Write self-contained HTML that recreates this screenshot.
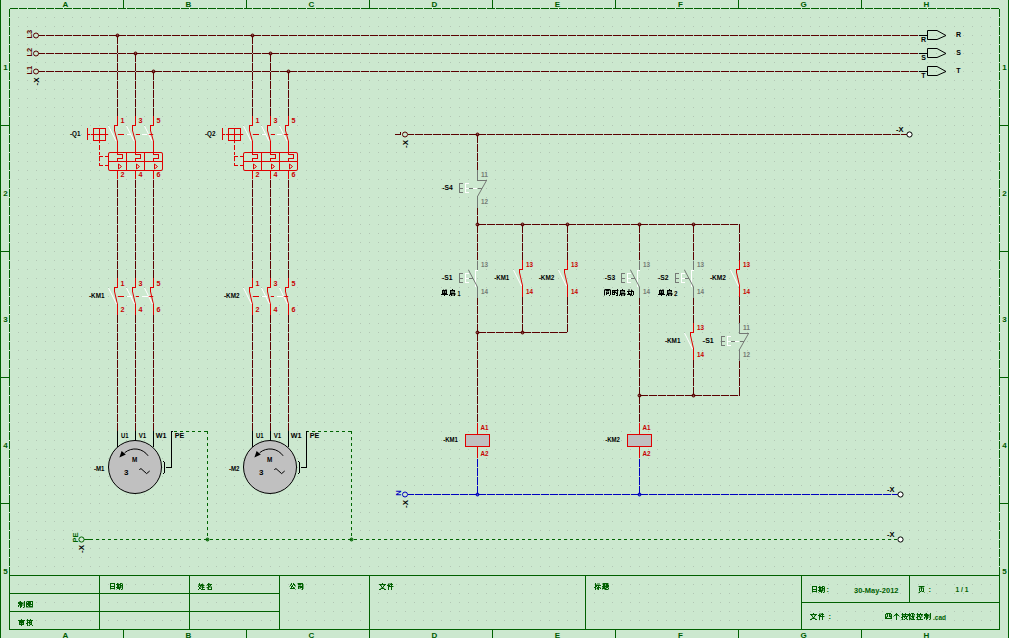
<!DOCTYPE html><html><head><meta charset="utf-8"><style>html,body{margin:0;padding:0;background:#cce8cf;overflow:hidden}svg{display:block}text{font-family:"Liberation Sans",sans-serif}</style></head><body>
<svg width="1009" height="638" viewBox="0 0 1009 638">
<defs><pattern id="g" x="0" y="8" width="9" height="9" patternUnits="userSpaceOnUse"><rect x="0" y="0" width="1" height="1" fill="#b2c6b4"/></pattern></defs>
<rect width="1009" height="638" fill="#cce8cf"/>
<rect x="10" y="9" width="989" height="620" fill="url(#g)" shape-rendering="crispEdges"/>
<path d="M0.5 0V638M1008.5 0V638M10 8.5H18M19 8.5H27M28 8.5H36M37 8.5H45M46 8.5H54M55 8.5H63M64 8.5H72M73 8.5H81M82 8.5H90M91 8.5H99M100 8.5H108M109 8.5H117M118 8.5H126M127 8.5H135M136 8.5H144M145 8.5H153M154 8.5H162M163 8.5H171M172 8.5H180M181 8.5H189M190 8.5H198M199 8.5H207M208 8.5H216M217 8.5H225M226 8.5H234M235 8.5H243M244 8.5H252M253 8.5H261M262 8.5H270M271 8.5H279M280 8.5H288M289 8.5H297M298 8.5H306M307 8.5H315M316 8.5H324M325 8.5H333M334 8.5H342M343 8.5H351M352 8.5H360M361 8.5H369M370 8.5H378M379 8.5H387M388 8.5H396M397 8.5H405M406 8.5H414M415 8.5H423M424 8.5H432M433 8.5H441M442 8.5H450M451 8.5H459M460 8.5H468M469 8.5H477M478 8.5H486M487 8.5H495M496 8.5H504M505 8.5H513M514 8.5H522M523 8.5H531M532 8.5H540M541 8.5H549M550 8.5H558M559 8.5H567M568 8.5H576M577 8.5H585M586 8.5H594M595 8.5H603M604 8.5H612M613 8.5H621M622 8.5H630M631 8.5H639M640 8.5H648M649 8.5H657M658 8.5H666M667 8.5H675M676 8.5H684M685 8.5H693M694 8.5H702M703 8.5H711M712 8.5H720M721 8.5H729M730 8.5H738M739 8.5H747M748 8.5H756M757 8.5H765M766 8.5H774M775 8.5H783M784 8.5H792M793 8.5H801M802 8.5H810M811 8.5H819M820 8.5H828M829 8.5H837M838 8.5H846M847 8.5H855M856 8.5H864M865 8.5H873M874 8.5H882M883 8.5H891M892 8.5H900M901 8.5H909M910 8.5H918M919 8.5H927M928 8.5H936M937 8.5H945M946 8.5H954M955 8.5H963M964 8.5H972M973 8.5H981M982 8.5H990M991 8.5H999M9.5 9V17M9.5 18V26M9.5 27V35M9.5 36V44M9.5 45V53M9.5 54V62M9.5 63V71M9.5 72V80M9.5 81V89M9.5 90V98M9.5 99V107M9.5 108V116M9.5 117V125M9.5 126V134M9.5 135V143M9.5 144V152M9.5 153V161M9.5 162V170M9.5 171V179M9.5 180V188M9.5 189V197M9.5 198V206M9.5 207V215M9.5 216V224M9.5 225V233M9.5 234V242M9.5 243V251M9.5 252V260M9.5 261V269M9.5 270V278M9.5 279V287M9.5 288V296M9.5 297V305M9.5 306V314M9.5 315V323M9.5 324V332M9.5 333V341M9.5 342V350M9.5 351V359M9.5 360V368M9.5 369V377M9.5 378V386M9.5 387V395M9.5 396V404M9.5 405V413M9.5 414V422M9.5 423V431M9.5 432V440M9.5 441V449M9.5 450V458M9.5 459V467M9.5 468V476M9.5 477V485M9.5 486V494M9.5 495V503M9.5 504V512M9.5 513V521M9.5 522V530M9.5 531V539M9.5 540V548M9.5 549V557M9.5 558V566M9.5 567V575M999.5 9V17M999.5 18V26M999.5 27V35M999.5 36V44M999.5 45V53M999.5 54V62M999.5 63V71M999.5 72V80M999.5 81V89M999.5 90V98M999.5 99V107M999.5 108V116M999.5 117V125M999.5 126V134M999.5 135V143M999.5 144V152M999.5 153V161M999.5 162V170M999.5 171V179M999.5 180V188M999.5 189V197M999.5 198V206M999.5 207V215M999.5 216V224M999.5 225V233M999.5 234V242M999.5 243V251M999.5 252V260M999.5 261V269M999.5 270V278M999.5 279V287M999.5 288V296M999.5 297V305M999.5 306V314M999.5 315V323M999.5 324V332M999.5 333V341M999.5 342V350M999.5 351V359M999.5 360V368M999.5 369V377M999.5 378V386M999.5 387V395M999.5 396V404M999.5 405V413M999.5 414V422M999.5 423V431M999.5 432V440M999.5 441V449M999.5 450V458M999.5 459V467M999.5 468V476M999.5 477V485M999.5 486V494M999.5 495V503M999.5 504V512M999.5 513V521M999.5 522V530M999.5 531V539M999.5 540V548M999.5 549V557M999.5 558V566M999.5 567V575M123.5 0V9M123.5 629V638M246.5 0V9M246.5 629V638M369.5 0V9M369.5 629V638M492.5 0V9M492.5 629V638M615.5 0V9M615.5 629V638M738.5 0V9M738.5 629V638M861.5 0V9M861.5 629V638M0 125.5H10M999 125.5H1009M0 251.5H10M999 251.5H1009M0 377.5H10M999 377.5H1009M0 503.5H10M999 503.5H1009M9 575.5H1000M9 629.5H1000M9.5 575V630M999.5 575V630M9 593.5H280M9 611.5H280M801 602.5H1000M99.5 575V630M189.5 575V630M279.5 575V630M369.5 575V630M585.5 575V630M801.5 575V630M909.5 575V603" stroke="#006000" stroke-width="1" fill="none" shape-rendering="crispEdges"/>
<path d="M174 431.5H177M180 431.5H183M186 431.5H189M192 431.5H195M198 431.5H201M204 431.5H207M207.5 431V434M207.5 437V440M207.5 443V446M207.5 449V452M207.5 455V458M207.5 461V464M207.5 467V470M207.5 473V476M207.5 479V482M207.5 485V488M207.5 491V494M207.5 497V500M207.5 503V506M207.5 509V512M207.5 515V518M207.5 521V524M207.5 527V530M207.5 533V536M207.5 539V540M308 431.5H309M312 431.5H315M318 431.5H321M324 431.5H327M330 431.5H333M336 431.5H339M342 431.5H345M348 431.5H351M351.5 431V434M351.5 437V440M351.5 443V446M351.5 449V452M351.5 455V458M351.5 461V464M351.5 467V470M351.5 473V476M351.5 479V482M351.5 485V488M351.5 491V494M351.5 497V500M351.5 503V506M351.5 509V512M351.5 515V518M351.5 521V524M351.5 527V530M351.5 533V536M351.5 539V540M84 539.5H91M91 539.5H93M96 539.5H99M102 539.5H105M108 539.5H111M114 539.5H117M120 539.5H123M126 539.5H129M132 539.5H135M138 539.5H141M144 539.5H147M150 539.5H153M156 539.5H159M162 539.5H165M168 539.5H171M174 539.5H177M180 539.5H183M186 539.5H189M192 539.5H195M198 539.5H201M204 539.5H207M210 539.5H213M216 539.5H219M222 539.5H225M228 539.5H231M234 539.5H237M240 539.5H243M246 539.5H249M252 539.5H255M258 539.5H261M264 539.5H267M270 539.5H273M276 539.5H279M282 539.5H285M288 539.5H291M294 539.5H297M300 539.5H303M306 539.5H309M312 539.5H315M318 539.5H321M324 539.5H327M330 539.5H333M336 539.5H339M342 539.5H345M348 539.5H351M354 539.5H357M360 539.5H363M366 539.5H369M372 539.5H375M378 539.5H381M384 539.5H387M390 539.5H393M396 539.5H399M402 539.5H405M408 539.5H411M414 539.5H417M420 539.5H423M426 539.5H429M432 539.5H435M438 539.5H441M444 539.5H447M450 539.5H453M456 539.5H459M462 539.5H465M468 539.5H471M474 539.5H477M480 539.5H483M486 539.5H489M492 539.5H495M498 539.5H501M504 539.5H507M510 539.5H513M516 539.5H519M522 539.5H525M528 539.5H531M534 539.5H537M540 539.5H543M546 539.5H549M552 539.5H555M558 539.5H561M564 539.5H567M570 539.5H573M576 539.5H579M582 539.5H585M588 539.5H591M594 539.5H597M600 539.5H603M606 539.5H609M612 539.5H615M618 539.5H621M624 539.5H627M630 539.5H633M636 539.5H639M642 539.5H645M648 539.5H651M654 539.5H657M660 539.5H663M666 539.5H669M672 539.5H675M678 539.5H681M684 539.5H687M690 539.5H693M696 539.5H699M702 539.5H705M708 539.5H711M714 539.5H717M720 539.5H723M726 539.5H729M732 539.5H735M738 539.5H741M744 539.5H747M750 539.5H753M756 539.5H759M762 539.5H765M768 539.5H771M774 539.5H777M780 539.5H783M786 539.5H789M792 539.5H795M798 539.5H801M804 539.5H807M810 539.5H813M816 539.5H819M822 539.5H825M828 539.5H831M834 539.5H837M840 539.5H843M846 539.5H849M852 539.5H855M858 539.5H861M864 539.5H867M870 539.5H873M876 539.5H879M882 539.5H885M888 539.5H891M894 539.5H897" stroke="#006400" stroke-width="1" fill="none" shape-rendering="crispEdges"/>
<path d="M38 35.5H45M46 35.5H54M55 35.5H63M64 35.5H72M73 35.5H81M82 35.5H90M91 35.5H99M100 35.5H108M109 35.5H117M118 35.5H126M127 35.5H135M136 35.5H144M145 35.5H153M154 35.5H162M163 35.5H171M172 35.5H180M181 35.5H189M190 35.5H198M199 35.5H207M208 35.5H216M217 35.5H225M226 35.5H234M235 35.5H243M244 35.5H252M253 35.5H261M262 35.5H270M271 35.5H279M280 35.5H288M289 35.5H297M298 35.5H306M307 35.5H315M316 35.5H324M325 35.5H333M334 35.5H342M343 35.5H351M352 35.5H360M361 35.5H369M370 35.5H378M379 35.5H387M388 35.5H396M397 35.5H405M406 35.5H414M415 35.5H423M424 35.5H432M433 35.5H441M442 35.5H450M451 35.5H459M460 35.5H468M469 35.5H477M478 35.5H486M487 35.5H495M496 35.5H504M505 35.5H513M514 35.5H522M523 35.5H531M532 35.5H540M541 35.5H549M550 35.5H558M559 35.5H567M568 35.5H576M577 35.5H585M586 35.5H594M595 35.5H603M604 35.5H612M613 35.5H621M622 35.5H630M631 35.5H639M640 35.5H648M649 35.5H657M658 35.5H666M667 35.5H675M676 35.5H684M685 35.5H693M694 35.5H702M703 35.5H711M712 35.5H720M721 35.5H729M730 35.5H738M739 35.5H747M748 35.5H756M757 35.5H765M766 35.5H774M775 35.5H783M784 35.5H792M793 35.5H801M802 35.5H810M811 35.5H819M820 35.5H828M829 35.5H837M838 35.5H846M847 35.5H855M856 35.5H864M865 35.5H873M874 35.5H882M883 35.5H891M892 35.5H900M901 35.5H909M910 35.5H918M38 53.5H45M46 53.5H54M55 53.5H63M64 53.5H72M73 53.5H81M82 53.5H90M91 53.5H99M100 53.5H108M109 53.5H117M118 53.5H126M127 53.5H135M136 53.5H144M145 53.5H153M154 53.5H162M163 53.5H171M172 53.5H180M181 53.5H189M190 53.5H198M199 53.5H207M208 53.5H216M217 53.5H225M226 53.5H234M235 53.5H243M244 53.5H252M253 53.5H261M262 53.5H270M271 53.5H279M280 53.5H288M289 53.5H297M298 53.5H306M307 53.5H315M316 53.5H324M325 53.5H333M334 53.5H342M343 53.5H351M352 53.5H360M361 53.5H369M370 53.5H378M379 53.5H387M388 53.5H396M397 53.5H405M406 53.5H414M415 53.5H423M424 53.5H432M433 53.5H441M442 53.5H450M451 53.5H459M460 53.5H468M469 53.5H477M478 53.5H486M487 53.5H495M496 53.5H504M505 53.5H513M514 53.5H522M523 53.5H531M532 53.5H540M541 53.5H549M550 53.5H558M559 53.5H567M568 53.5H576M577 53.5H585M586 53.5H594M595 53.5H603M604 53.5H612M613 53.5H621M622 53.5H630M631 53.5H639M640 53.5H648M649 53.5H657M658 53.5H666M667 53.5H675M676 53.5H684M685 53.5H693M694 53.5H702M703 53.5H711M712 53.5H720M721 53.5H729M730 53.5H738M739 53.5H747M748 53.5H756M757 53.5H765M766 53.5H774M775 53.5H783M784 53.5H792M793 53.5H801M802 53.5H810M811 53.5H819M820 53.5H828M829 53.5H837M838 53.5H846M847 53.5H855M856 53.5H864M865 53.5H873M874 53.5H882M883 53.5H891M892 53.5H900M901 53.5H909M910 53.5H918M38 71.5H45M46 71.5H54M55 71.5H63M64 71.5H72M73 71.5H81M82 71.5H90M91 71.5H99M100 71.5H108M109 71.5H117M118 71.5H126M127 71.5H135M136 71.5H144M145 71.5H153M154 71.5H162M163 71.5H171M172 71.5H180M181 71.5H189M190 71.5H198M199 71.5H207M208 71.5H216M217 71.5H225M226 71.5H234M235 71.5H243M244 71.5H252M253 71.5H261M262 71.5H270M271 71.5H279M280 71.5H288M289 71.5H297M298 71.5H306M307 71.5H315M316 71.5H324M325 71.5H333M334 71.5H342M343 71.5H351M352 71.5H360M361 71.5H369M370 71.5H378M379 71.5H387M388 71.5H396M397 71.5H405M406 71.5H414M415 71.5H423M424 71.5H432M433 71.5H441M442 71.5H450M451 71.5H459M460 71.5H468M469 71.5H477M478 71.5H486M487 71.5H495M496 71.5H504M505 71.5H513M514 71.5H522M523 71.5H531M532 71.5H540M541 71.5H549M550 71.5H558M559 71.5H567M568 71.5H576M577 71.5H585M586 71.5H594M595 71.5H603M604 71.5H612M613 71.5H621M622 71.5H630M631 71.5H639M640 71.5H648M649 71.5H657M658 71.5H666M667 71.5H675M676 71.5H684M685 71.5H693M694 71.5H702M703 71.5H711M712 71.5H720M721 71.5H729M730 71.5H738M739 71.5H747M748 71.5H756M757 71.5H765M766 71.5H774M775 71.5H783M784 71.5H792M793 71.5H801M802 71.5H810M811 71.5H819M820 71.5H828M829 71.5H837M838 71.5H846M847 71.5H855M856 71.5H864M865 71.5H873M874 71.5H882M883 71.5H891M892 71.5H900M901 71.5H909M910 71.5H918M117.5 36V44M117.5 45V53M117.5 54V62M117.5 63V71M117.5 72V80M117.5 81V89M117.5 90V98M117.5 99V107M117.5 108V116M117.5 180V188M117.5 189V197M117.5 198V206M117.5 207V215M117.5 216V224M117.5 225V233M117.5 234V242M117.5 243V251M117.5 252V260M117.5 261V269M117.5 270V278M117.5 315V323M117.5 324V332M117.5 333V341M117.5 342V350M117.5 351V359M117.5 360V368M117.5 369V377M117.5 378V386M117.5 387V395M117.5 396V404M117.5 405V413M117.5 414V422M117.5 423V431M135.5 54V62M135.5 63V71M135.5 72V80M135.5 81V89M135.5 90V98M135.5 99V107M135.5 108V116M135.5 180V188M135.5 189V197M135.5 198V206M135.5 207V215M135.5 216V224M135.5 225V233M135.5 234V242M135.5 243V251M135.5 252V260M135.5 261V269M135.5 270V278M135.5 315V323M135.5 324V332M135.5 333V341M135.5 342V350M135.5 351V359M135.5 360V368M135.5 369V377M135.5 378V386M135.5 387V395M135.5 396V404M135.5 405V413M135.5 414V422M135.5 423V431M153.5 72V80M153.5 81V89M153.5 90V98M153.5 99V107M153.5 108V116M153.5 180V188M153.5 189V197M153.5 198V206M153.5 207V215M153.5 216V224M153.5 225V233M153.5 234V242M153.5 243V251M153.5 252V260M153.5 261V269M153.5 270V278M153.5 315V323M153.5 324V332M153.5 333V341M153.5 342V350M153.5 351V359M153.5 360V368M153.5 369V377M153.5 378V386M153.5 387V395M153.5 396V404M153.5 405V413M153.5 414V422M153.5 423V431M252.5 36V44M252.5 45V53M252.5 54V62M252.5 63V71M252.5 72V80M252.5 81V89M252.5 90V98M252.5 99V107M252.5 108V116M252.5 180V188M252.5 189V197M252.5 198V206M252.5 207V215M252.5 216V224M252.5 225V233M252.5 234V242M252.5 243V251M252.5 252V260M252.5 261V269M252.5 270V278M252.5 315V323M252.5 324V332M252.5 333V341M252.5 342V350M252.5 351V359M252.5 360V368M252.5 369V377M252.5 378V386M252.5 387V395M252.5 396V404M252.5 405V413M252.5 414V422M252.5 423V431M270.5 54V62M270.5 63V71M270.5 72V80M270.5 81V89M270.5 90V98M270.5 99V107M270.5 108V116M270.5 180V188M270.5 189V197M270.5 198V206M270.5 207V215M270.5 216V224M270.5 225V233M270.5 234V242M270.5 243V251M270.5 252V260M270.5 261V269M270.5 270V278M270.5 315V323M270.5 324V332M270.5 333V341M270.5 342V350M270.5 351V359M270.5 360V368M270.5 369V377M270.5 378V386M270.5 387V395M270.5 396V404M270.5 405V413M270.5 414V422M270.5 423V431M288.5 72V80M288.5 81V89M288.5 90V98M288.5 99V107M288.5 108V116M288.5 180V188M288.5 189V197M288.5 198V206M288.5 207V215M288.5 216V224M288.5 225V233M288.5 234V242M288.5 243V251M288.5 252V260M288.5 261V269M288.5 270V278M288.5 315V323M288.5 324V332M288.5 333V341M288.5 342V350M288.5 351V359M288.5 360V368M288.5 369V377M288.5 378V386M288.5 387V395M288.5 396V404M288.5 405V413M288.5 414V422M288.5 423V431M395 134.5H401M400.5 132V135M408 134.5H414M415 134.5H423M424 134.5H432M433 134.5H441M442 134.5H450M451 134.5H459M460 134.5H468M469 134.5H477M478 134.5H486M487 134.5H495M496 134.5H504M505 134.5H513M514 134.5H522M523 134.5H531M532 134.5H540M541 134.5H549M550 134.5H558M559 134.5H567M568 134.5H576M577 134.5H585M586 134.5H594M595 134.5H603M604 134.5H612M613 134.5H621M622 134.5H630M631 134.5H639M640 134.5H648M649 134.5H657M658 134.5H666M667 134.5H675M676 134.5H684M685 134.5H693M694 134.5H702M703 134.5H711M712 134.5H720M721 134.5H729M730 134.5H738M739 134.5H747M748 134.5H756M757 134.5H765M766 134.5H774M775 134.5H783M784 134.5H792M793 134.5H801M802 134.5H810M811 134.5H819M820 134.5H828M829 134.5H837M838 134.5H846M847 134.5H855M856 134.5H864M865 134.5H873M874 134.5H882M883 134.5H891M892 134.5H900M901 134.5H907M477.5 135V143M477.5 144V152M477.5 153V161M477.5 162V170M477.5 208V215M477.5 216V224M477.5 225V233M477.5 234V242M477.5 243V251M477.5 252V260M477.5 298V305M477.5 306V314M477.5 315V323M477.5 324V332M477.5 333V341M477.5 342V350M477.5 351V359M477.5 360V368M477.5 369V377M477.5 378V386M477.5 387V395M477.5 396V404M477.5 405V413M477.5 414V422M478 224.5H486M487 224.5H495M496 224.5H504M505 224.5H513M514 224.5H522M523 224.5H531M532 224.5H540M541 224.5H549M550 224.5H558M559 224.5H567M568 224.5H576M577 224.5H585M586 224.5H594M595 224.5H603M604 224.5H612M613 224.5H621M622 224.5H630M631 224.5H639M640 224.5H648M649 224.5H657M658 224.5H666M667 224.5H675M676 224.5H684M685 224.5H693M694 224.5H702M703 224.5H711M712 224.5H720M721 224.5H729M730 224.5H738M739 224.5H740M522.5 225V233M522.5 234V242M522.5 243V251M522.5 252V260M522.5 297V305M522.5 306V314M522.5 315V323M522.5 324V332M567.5 225V233M567.5 234V242M567.5 243V251M567.5 252V260M567.5 297V305M567.5 306V314M567.5 315V323M567.5 324V332M478 332.5H486M487 332.5H495M496 332.5H504M505 332.5H513M514 332.5H522M523 332.5H531M532 332.5H540M541 332.5H549M550 332.5H558M559 332.5H567M639.5 225V233M639.5 234V242M639.5 243V251M639.5 252V260M639.5 298V305M639.5 306V314M639.5 315V323M639.5 324V332M639.5 333V341M639.5 342V350M639.5 351V359M639.5 360V368M639.5 369V377M639.5 378V386M639.5 387V395M639.5 396V404M639.5 405V413M639.5 414V422M693.5 225V233M693.5 234V242M693.5 243V251M693.5 252V260M693.5 298V305M693.5 306V314M693.5 315V323M693.5 360V368M693.5 369V377M693.5 378V386M693.5 387V395M739.5 225V233M739.5 234V242M739.5 243V251M739.5 252V260M739.5 297V305M739.5 306V314M739.5 315V323M739.5 361V368M739.5 369V377M739.5 378V386M739.5 387V395M640 395.5H648M649 395.5H657M658 395.5H666M667 395.5H675M676 395.5H684M685 395.5H693M694 395.5H702M703 395.5H711M712 395.5H720M721 395.5H729M730 395.5H738M739 395.5H740" stroke="#5a0000" stroke-width="1" fill="none" shape-rendering="crispEdges"/>
<path d="M408 494.5H414M415 494.5H423M424 494.5H432M433 494.5H441M442 494.5H450M451 494.5H459M460 494.5H468M469 494.5H477M478 494.5H486M487 494.5H495M496 494.5H504M505 494.5H513M514 494.5H522M523 494.5H531M532 494.5H540M541 494.5H549M550 494.5H558M559 494.5H567M568 494.5H576M577 494.5H585M586 494.5H594M595 494.5H603M604 494.5H612M613 494.5H621M622 494.5H630M631 494.5H639M640 494.5H648M649 494.5H657M658 494.5H666M667 494.5H675M676 494.5H684M685 494.5H693M694 494.5H702M703 494.5H711M712 494.5H720M721 494.5H729M730 494.5H738M739 494.5H747M748 494.5H756M757 494.5H765M766 494.5H774M775 494.5H783M784 494.5H792M793 494.5H801M802 494.5H810M811 494.5H819M820 494.5H828M829 494.5H837M838 494.5H846M847 494.5H855M856 494.5H864M865 494.5H873M874 494.5H882M883 494.5H891M892 494.5H898M477.5 459V467M477.5 468V476M477.5 477V485M477.5 486V494M639.5 459V467M639.5 468V476M639.5 477V485M639.5 486V494" stroke="#0000c0" stroke-width="1" fill="none" shape-rendering="crispEdges"/>
<path d="M117.5 116V126M114 125.5H118M114.5 125V131M117.5 141V153M117.5 152V155M117 154.5H123M122.5 154V159M117 158.5H123M117.5 158V162M117.5 170V179M117.5 278V288M114 287.5H118M114.5 287V292M117.5 304V315M135.5 116V126M132 125.5H136M132.5 125V131M135.5 141V153M135.5 152V155M135 154.5H141M140.5 154V159M135 158.5H141M135.5 158V162M135.5 170V179M135.5 278V288M132 287.5H136M132.5 287V292M135.5 304V315M153.5 116V126M150 125.5H154M150.5 125V131M153.5 141V153M153.5 152V155M153 154.5H159M158.5 154V159M153 158.5H159M153.5 158V162M153.5 170V179M153.5 278V288M150 287.5H154M150.5 287V292M153.5 304V315M118 134.5H124M136 134.5H140M148 134.5H153M118 296.5H124M136 296.5H139M148 296.5H153M87.5 128V140M87 134.5H90M91 134.5H99M100 134.5H108M99.5 128V141M99.5 141V143M99.5 145V150M99.5 152V155M99.5 157V161M99.5 163V166M99 165.5H103M99 156.5H103M105 156.5H109M105 165.5H109M108 161.5H163M126.5 152V171M144.5 152V171M252.5 116V126M249 125.5H253M249.5 125V131M252.5 141V153M252.5 152V155M252 154.5H258M257.5 154V159M252 158.5H258M252.5 158V162M252.5 170V179M252.5 278V288M249 287.5H253M249.5 287V292M252.5 304V315M270.5 116V126M267 125.5H271M267.5 125V131M270.5 141V153M270.5 152V155M270 154.5H276M275.5 154V159M270 158.5H276M270.5 158V162M270.5 170V179M270.5 278V288M267 287.5H271M267.5 287V292M270.5 304V315M288.5 116V126M285 125.5H289M285.5 125V131M288.5 141V153M288.5 152V155M288 154.5H294M293.5 154V159M288 158.5H294M288.5 158V162M288.5 170V179M288.5 278V288M285 287.5H289M285.5 287V292M288.5 304V315M253 134.5H259M271 134.5H275M283 134.5H288M253 296.5H259M271 296.5H274M283 296.5H288M222.5 128V140M222 134.5H225M226 134.5H234M235 134.5H243M234.5 128V141M234.5 141V143M234.5 145V150M234.5 152V155M234.5 157V161M234.5 163V166M234 165.5H238M234 156.5H238M240 156.5H244M240 165.5H244M243 161.5H298M261.5 152V171M279.5 152V171M522.5 260V270M519 269.5H523M519.5 269V273M522.5 285V297M567.5 260V270M564 269.5H568M564.5 269V273M567.5 285V297M693.5 323V333M690 332.5H694M690.5 332V336M693.5 348V360M739.5 260V270M736 269.5H740M736.5 269V273M739.5 285V297M477.5 423V435M477.5 447V458M639.5 423V435M639.5 447V458" stroke="#e00000" stroke-width="1" fill="none" shape-rendering="crispEdges"/>
<path d="M477.5 170V181M477 180.5H487M477.5 196V208M459.5 183V193M459 183.5H463M459 192.5H463M459 188.5H463M468 188.5H473M478 188.5H482M477.5 261V270M477.5 287V298M459.5 273V283M459 273.5H463M459 282.5H463M459 278.5H463M468 278.5H473M639.5 261V270M639.5 287V298M621.5 273V283M621 273.5H625M621 282.5H625M621 278.5H625M630 278.5H635M693.5 261V270M693.5 287V298M675.5 273V283M675 273.5H679M675 282.5H679M675 278.5H679M684 278.5H689M739.5 323V334M739 333.5H749M739.5 349V361M721.5 336V346M721 336.5H725M721 345.5H725M721 341.5H725M730 341.5H735M740 341.5H744" stroke="#747874" stroke-width="1" fill="none" shape-rendering="crispEdges"/>
<path d="M919 35.5H928M919 53.5H928M919 71.5H928M117.5 431V447M135.5 431V441M153.5 431V447M164.5 462V473M163.5 461V462M163.5 473V474M171.5 431V468M166 467.5H172M171 431.5H173M252.5 431V447M270.5 431V441M288.5 431V447M299.5 462V473M298.5 461V462M298.5 473V474M306.5 431V468M301 467.5H307M306 431.5H308" stroke="#000000" stroke-width="1" fill="none" shape-rendering="crispEdges"/>
<path d="M127 134.5H131M142 134.5H147M127 296.5H132M142 296.5H148M262 134.5H266M277 134.5H282M262 296.5H267M277 296.5H283M465.5 183V193M465 183.5H469M465 192.5H469M465 188.5H469M473 188.5H477M475.5 270V287M475 270.5H478M465.5 273V283M465 273.5H469M465 282.5H469M465 278.5H469M637.5 270V287M637 270.5H640M627.5 273V283M627 273.5H631M627 282.5H631M627 278.5H631M691.5 270V287M691 270.5H694M681.5 273V283M681 273.5H685M681 282.5H685M681 278.5H685M727.5 336V346M727 336.5H731M727 345.5H731M727 341.5H731M735 341.5H739" stroke="#ffffff" stroke-width="1" fill="none" shape-rendering="crispEdges"/>
<g><circle cx="36" cy="35.5" r="2.5" stroke="#5a0000" fill="#cce8cf" stroke-width="1"/><path d="M927.5 30.5H937L946 35.5L937 39.5H927.5Z" fill="none" stroke="#000000" stroke-width="1"/><circle cx="36" cy="53.5" r="2.5" stroke="#5a0000" fill="#cce8cf" stroke-width="1"/><path d="M927.5 48.5H937L946 53.5L937 57.5H927.5Z" fill="none" stroke="#000000" stroke-width="1"/><circle cx="36" cy="71.5" r="2.5" stroke="#5a0000" fill="#cce8cf" stroke-width="1"/><path d="M927.5 66.5H937L946 71.5L937 75.5H927.5Z" fill="none" stroke="#000000" stroke-width="1"/><circle cx="117.5" cy="35.5" r="1.5" fill="#5a0000" fill-opacity=".6" stroke="#5a0000" stroke-width="1"/><line x1="114.5" y1="130.5" x2="117.5" y2="141.5" stroke="#e00000" stroke-width="1"/><line x1="108.5" y1="126" x2="116" y2="141" stroke="#ffffff" stroke-width="1"/><path d="M118.5 164L121.5 166.5L118.5 169Z" fill="none" stroke="#e00000" stroke-width="1"/><line x1="114.5" y1="291.5" x2="117.5" y2="304.5" stroke="#e00000" stroke-width="1"/><line x1="108.5" y1="288" x2="116.5" y2="304" stroke="#ffffff" stroke-width="1"/><circle cx="135.5" cy="53.5" r="1.5" fill="#5a0000" fill-opacity=".6" stroke="#5a0000" stroke-width="1"/><line x1="132.5" y1="130.5" x2="135.5" y2="141.5" stroke="#e00000" stroke-width="1"/><line x1="126.5" y1="126" x2="134" y2="141" stroke="#ffffff" stroke-width="1"/><path d="M136.5 164L139.5 166.5L136.5 169Z" fill="none" stroke="#e00000" stroke-width="1"/><line x1="132.5" y1="291.5" x2="135.5" y2="304.5" stroke="#e00000" stroke-width="1"/><line x1="126.5" y1="288" x2="134.5" y2="304" stroke="#ffffff" stroke-width="1"/><circle cx="153.5" cy="71.5" r="1.5" fill="#5a0000" fill-opacity=".6" stroke="#5a0000" stroke-width="1"/><line x1="150.5" y1="130.5" x2="153.5" y2="141.5" stroke="#e00000" stroke-width="1"/><line x1="144.5" y1="126" x2="152" y2="141" stroke="#ffffff" stroke-width="1"/><path d="M154.5 164L157.5 166.5L154.5 169Z" fill="none" stroke="#e00000" stroke-width="1"/><line x1="150.5" y1="291.5" x2="153.5" y2="304.5" stroke="#e00000" stroke-width="1"/><line x1="144.5" y1="288" x2="152.5" y2="304" stroke="#ffffff" stroke-width="1"/><rect x="93.5" y="128.5" width="12" height="12" fill="none" stroke="#e00000" stroke-width="1"/><rect x="108.5" y="152.5" width="54" height="18" rx="1.5" fill="none" stroke="#e00000" stroke-width="1"/><circle cx="135" cy="467" r="26.5" stroke="#000000" fill="#c0c0c0" stroke-width="1"/><path d="M139.3 469.6L141 468.6L146.6 473.6L149.7 471" fill="none" stroke="#000000" stroke-width="1"/><path d="M148.1 455.8A16 16 0 0 0 124.7 452.7" fill="none" stroke="#000000" stroke-width="1"/><path d="M119.4 457.6L121.6 451L125.8 454.5Z" fill="#000000"/><circle cx="252.5" cy="35.5" r="1.5" fill="#5a0000" fill-opacity=".6" stroke="#5a0000" stroke-width="1"/><line x1="249.5" y1="130.5" x2="252.5" y2="141.5" stroke="#e00000" stroke-width="1"/><line x1="243.5" y1="126" x2="251" y2="141" stroke="#ffffff" stroke-width="1"/><path d="M253.5 164L256.5 166.5L253.5 169Z" fill="none" stroke="#e00000" stroke-width="1"/><line x1="249.5" y1="291.5" x2="252.5" y2="304.5" stroke="#e00000" stroke-width="1"/><line x1="243.5" y1="288" x2="251.5" y2="304" stroke="#ffffff" stroke-width="1"/><circle cx="270.5" cy="53.5" r="1.5" fill="#5a0000" fill-opacity=".6" stroke="#5a0000" stroke-width="1"/><line x1="267.5" y1="130.5" x2="270.5" y2="141.5" stroke="#e00000" stroke-width="1"/><line x1="261.5" y1="126" x2="269" y2="141" stroke="#ffffff" stroke-width="1"/><path d="M271.5 164L274.5 166.5L271.5 169Z" fill="none" stroke="#e00000" stroke-width="1"/><line x1="267.5" y1="291.5" x2="270.5" y2="304.5" stroke="#e00000" stroke-width="1"/><line x1="261.5" y1="288" x2="269.5" y2="304" stroke="#ffffff" stroke-width="1"/><circle cx="288.5" cy="71.5" r="1.5" fill="#5a0000" fill-opacity=".6" stroke="#5a0000" stroke-width="1"/><line x1="285.5" y1="130.5" x2="288.5" y2="141.5" stroke="#e00000" stroke-width="1"/><line x1="279.5" y1="126" x2="287" y2="141" stroke="#ffffff" stroke-width="1"/><path d="M289.5 164L292.5 166.5L289.5 169Z" fill="none" stroke="#e00000" stroke-width="1"/><line x1="285.5" y1="291.5" x2="288.5" y2="304.5" stroke="#e00000" stroke-width="1"/><line x1="279.5" y1="288" x2="287.5" y2="304" stroke="#ffffff" stroke-width="1"/><rect x="228.5" y="128.5" width="12" height="12" fill="none" stroke="#e00000" stroke-width="1"/><rect x="243.5" y="152.5" width="54" height="18" rx="1.5" fill="none" stroke="#e00000" stroke-width="1"/><circle cx="270" cy="467" r="26.5" stroke="#000000" fill="#c0c0c0" stroke-width="1"/><path d="M274.3 469.6L276 468.6L281.6 473.6L284.7 471" fill="none" stroke="#000000" stroke-width="1"/><path d="M283.1 455.8A16 16 0 0 0 259.7 452.7" fill="none" stroke="#000000" stroke-width="1"/><path d="M254.4 457.6L256.6 451L260.8 454.5Z" fill="#000000"/><circle cx="81.5" cy="539.5" r="2.6" stroke="#006400" fill="#cce8cf" stroke-width="1"/><circle cx="207.5" cy="539.5" r="1.5" fill="#006400" fill-opacity=".6" stroke="#006400" stroke-width="1"/><circle cx="351.5" cy="539.5" r="1.5" fill="#006400" fill-opacity=".6" stroke="#006400" stroke-width="1"/><circle cx="900.5" cy="539.5" r="2.6" stroke="#000000" fill="#ffffff" stroke-width="1"/><circle cx="405" cy="134.5" r="2.5" stroke="#5a0000" fill="#cce8cf" stroke-width="1"/><circle cx="909.5" cy="134.5" r="2.6" stroke="#000000" fill="#ffffff" stroke-width="1"/><circle cx="477.5" cy="134.5" r="1.5" fill="#5a0000" fill-opacity=".6" stroke="#5a0000" stroke-width="1"/><circle cx="405" cy="494.5" r="2.5" stroke="#0000c0" fill="#cce8cf" stroke-width="1"/><circle cx="900.5" cy="494.5" r="2.6" stroke="#000000" fill="#ffffff" stroke-width="1"/><line x1="486.5" y1="180.5" x2="477.5" y2="196.5" stroke="#747874" stroke-width="1"/><line x1="468.5" y1="270" x2="477.5" y2="287" stroke="#747874" stroke-width="1"/><circle cx="477.5" cy="224.5" r="1.5" fill="#5a0000" fill-opacity=".6" stroke="#5a0000" stroke-width="1"/><circle cx="522.5" cy="224.5" r="1.5" fill="#5a0000" fill-opacity=".6" stroke="#5a0000" stroke-width="1"/><circle cx="567.5" cy="224.5" r="1.5" fill="#5a0000" fill-opacity=".6" stroke="#5a0000" stroke-width="1"/><circle cx="639.5" cy="224.5" r="1.5" fill="#5a0000" fill-opacity=".6" stroke="#5a0000" stroke-width="1"/><circle cx="693.5" cy="224.5" r="1.5" fill="#5a0000" fill-opacity=".6" stroke="#5a0000" stroke-width="1"/><line x1="519.5" y1="272.5" x2="522.5" y2="285.5" stroke="#e00000" stroke-width="1"/><line x1="513.5" y1="270" x2="521.5" y2="286" stroke="#ffffff" stroke-width="1"/><line x1="564.5" y1="272.5" x2="567.5" y2="285.5" stroke="#e00000" stroke-width="1"/><line x1="558.5" y1="270" x2="566.5" y2="286" stroke="#ffffff" stroke-width="1"/><circle cx="477.5" cy="332.5" r="1.5" fill="#5a0000" fill-opacity=".6" stroke="#5a0000" stroke-width="1"/><circle cx="522.5" cy="332.5" r="1.5" fill="#5a0000" fill-opacity=".6" stroke="#5a0000" stroke-width="1"/><line x1="630.5" y1="270" x2="639.5" y2="287" stroke="#747874" stroke-width="1"/><line x1="684.5" y1="270" x2="693.5" y2="287" stroke="#747874" stroke-width="1"/><line x1="690.5" y1="335.5" x2="693.5" y2="348.5" stroke="#e00000" stroke-width="1"/><line x1="684.5" y1="333" x2="692.5" y2="349" stroke="#ffffff" stroke-width="1"/><line x1="736.5" y1="272.5" x2="739.5" y2="285.5" stroke="#e00000" stroke-width="1"/><line x1="730.5" y1="270" x2="738.5" y2="286" stroke="#ffffff" stroke-width="1"/><line x1="748.5" y1="333.5" x2="739.5" y2="349.5" stroke="#747874" stroke-width="1"/><circle cx="639.5" cy="395.5" r="1.5" fill="#5a0000" fill-opacity=".6" stroke="#5a0000" stroke-width="1"/><circle cx="693.5" cy="395.5" r="1.5" fill="#5a0000" fill-opacity=".6" stroke="#5a0000" stroke-width="1"/><rect x="465.5" y="434.5" width="24" height="12" fill="#c0c0c0" stroke="#e00000" stroke-width="1"/><circle cx="477.5" cy="494.5" r="1.5" fill="#0000c0" fill-opacity=".6" stroke="#0000c0" stroke-width="1"/><rect x="627.5" y="434.5" width="24" height="12" fill="#c0c0c0" stroke="#e00000" stroke-width="1"/><circle cx="639.5" cy="494.5" r="1.5" fill="#0000c0" fill-opacity=".6" stroke="#0000c0" stroke-width="1"/></g>
<g shape-rendering="crispEdges"><rect x="110" y="583" width="1" height="1" fill="#006000"/><rect x="111" y="583" width="1" height="1" fill="#006000"/><rect x="112" y="583" width="1" height="1" fill="#006000"/><rect x="113" y="583" width="1" height="1" fill="#006000"/><rect x="114" y="583" width="1" height="1" fill="#006000"/><rect x="110" y="584" width="1" height="1" fill="#006000"/><rect x="114" y="584" width="1" height="1" fill="#006000"/><rect x="110" y="585" width="1" height="1" fill="#006000"/><rect x="114" y="585" width="1" height="1" fill="#006000"/><rect x="110" y="586" width="1" height="1" fill="#006000"/><rect x="111" y="586" width="1" height="1" fill="#006000"/><rect x="112" y="586" width="1" height="1" fill="#006000"/><rect x="113" y="586" width="1" height="1" fill="#006000"/><rect x="114" y="586" width="1" height="1" fill="#006000"/><rect x="110" y="587" width="1" height="1" fill="#006000"/><rect x="114" y="587" width="1" height="1" fill="#006000"/><rect x="110" y="588" width="1" height="1" fill="#006000"/><rect x="111" y="588" width="1" height="1" fill="#006000"/><rect x="112" y="588" width="1" height="1" fill="#006000"/><rect x="113" y="588" width="1" height="1" fill="#006000"/><rect x="114" y="588" width="1" height="1" fill="#006000"/><rect x="110" y="589" width="1" height="1" fill="#006000" fill-opacity=".45"/><rect x="114" y="589" width="1" height="1" fill="#006000" fill-opacity=".45"/><rect x="117" y="583" width="1" height="1" fill="#006000"/><rect x="118" y="583" width="1" height="1" fill="#006000" fill-opacity=".45"/><rect x="120" y="583" width="1" height="1" fill="#006000"/><rect x="121" y="583" width="1" height="1" fill="#006000"/><rect x="122" y="583" width="1" height="1" fill="#006000" fill-opacity=".45"/><rect x="116" y="584" width="1" height="1" fill="#006000"/><rect x="117" y="584" width="1" height="1" fill="#006000"/><rect x="118" y="584" width="1" height="1" fill="#006000"/><rect x="119" y="584" width="1" height="1" fill="#006000"/><rect x="120" y="584" width="1" height="1" fill="#006000"/><rect x="122" y="584" width="1" height="1" fill="#006000"/><rect x="117" y="585" width="1" height="1" fill="#006000"/><rect x="118" y="585" width="1" height="1" fill="#006000"/><rect x="119" y="585" width="1" height="1" fill="#006000" fill-opacity=".45"/><rect x="120" y="585" width="1" height="1" fill="#006000"/><rect x="121" y="585" width="1" height="1" fill="#006000"/><rect x="122" y="585" width="1" height="1" fill="#006000"/><rect x="117" y="586" width="1" height="1" fill="#006000"/><rect x="118" y="586" width="1" height="1" fill="#006000"/><rect x="119" y="586" width="1" height="1" fill="#006000" fill-opacity=".45"/><rect x="120" y="586" width="1" height="1" fill="#006000"/><rect x="121" y="586" width="1" height="1" fill="#006000" fill-opacity=".45"/><rect x="122" y="586" width="1" height="1" fill="#006000"/><rect x="116" y="587" width="1" height="1" fill="#006000"/><rect x="117" y="587" width="1" height="1" fill="#006000"/><rect x="118" y="587" width="1" height="1" fill="#006000"/><rect x="119" y="587" width="1" height="1" fill="#006000"/><rect x="120" y="587" width="1" height="1" fill="#006000"/><rect x="121" y="587" width="1" height="1" fill="#006000" fill-opacity=".45"/><rect x="122" y="587" width="1" height="1" fill="#006000"/><rect x="117" y="588" width="1" height="1" fill="#006000"/><rect x="118" y="588" width="1" height="1" fill="#006000"/><rect x="119" y="588" width="1" height="1" fill="#006000"/><rect x="120" y="588" width="1" height="1" fill="#006000" fill-opacity=".45"/><rect x="122" y="588" width="1" height="1" fill="#006000"/><rect x="116" y="589" width="1" height="1" fill="#006000" fill-opacity=".45"/><rect x="119" y="589" width="1" height="1" fill="#006000"/><rect x="121" y="589" width="1" height="1" fill="#006000"/><rect x="122" y="589" width="1" height="1" fill="#006000" fill-opacity=".45"/><rect x="199" y="583" width="1" height="1" fill="#006000"/><rect x="202" y="583" width="1" height="1" fill="#006000" fill-opacity=".45"/><rect x="198" y="584" width="1" height="1" fill="#006000" fill-opacity=".45"/><rect x="199" y="584" width="1" height="1" fill="#006000"/><rect x="200" y="584" width="1" height="1" fill="#006000" fill-opacity=".45"/><rect x="201" y="584" width="1" height="1" fill="#006000"/><rect x="202" y="584" width="1" height="1" fill="#006000"/><rect x="203" y="584" width="1" height="1" fill="#006000" fill-opacity=".45"/><rect x="198" y="585" width="1" height="1" fill="#006000" fill-opacity=".45"/><rect x="199" y="585" width="1" height="1" fill="#006000"/><rect x="200" y="585" width="1" height="1" fill="#006000"/><rect x="201" y="585" width="1" height="1" fill="#006000"/><rect x="202" y="585" width="1" height="1" fill="#006000"/><rect x="203" y="585" width="1" height="1" fill="#006000"/><rect x="204" y="585" width="1" height="1" fill="#006000" fill-opacity=".45"/><rect x="198" y="586" width="1" height="1" fill="#006000"/><rect x="200" y="586" width="1" height="1" fill="#006000"/><rect x="201" y="586" width="1" height="1" fill="#006000" fill-opacity=".45"/><rect x="202" y="586" width="1" height="1" fill="#006000"/><rect x="203" y="586" width="1" height="1" fill="#006000" fill-opacity=".45"/><rect x="199" y="587" width="1" height="1" fill="#006000"/><rect x="200" y="587" width="1" height="1" fill="#006000" fill-opacity=".45"/><rect x="201" y="587" width="1" height="1" fill="#006000" fill-opacity=".45"/><rect x="202" y="587" width="1" height="1" fill="#006000"/><rect x="203" y="587" width="1" height="1" fill="#006000"/><rect x="204" y="587" width="1" height="1" fill="#006000" fill-opacity=".45"/><rect x="199" y="588" width="1" height="1" fill="#006000"/><rect x="200" y="588" width="1" height="1" fill="#006000"/><rect x="202" y="588" width="1" height="1" fill="#006000"/><rect x="198" y="589" width="1" height="1" fill="#006000"/><rect x="201" y="589" width="1" height="1" fill="#006000"/><rect x="202" y="589" width="1" height="1" fill="#006000"/><rect x="203" y="589" width="1" height="1" fill="#006000"/><rect x="204" y="589" width="1" height="1" fill="#006000"/><rect x="208" y="583" width="1" height="1" fill="#006000"/><rect x="209" y="583" width="1" height="1" fill="#006000" fill-opacity=".45"/><rect x="207" y="584" width="1" height="1" fill="#006000"/><rect x="208" y="584" width="1" height="1" fill="#006000"/><rect x="209" y="584" width="1" height="1" fill="#006000"/><rect x="210" y="584" width="1" height="1" fill="#006000"/><rect x="211" y="584" width="1" height="1" fill="#006000"/><rect x="206" y="585" width="1" height="1" fill="#006000" fill-opacity=".45"/><rect x="207" y="585" width="1" height="1" fill="#006000" fill-opacity=".45"/><rect x="208" y="585" width="1" height="1" fill="#006000"/><rect x="209" y="585" width="1" height="1" fill="#006000" fill-opacity=".45"/><rect x="210" y="585" width="1" height="1" fill="#006000"/><rect x="208" y="586" width="1" height="1" fill="#006000"/><rect x="209" y="586" width="1" height="1" fill="#006000"/><rect x="210" y="586" width="1" height="1" fill="#006000" fill-opacity=".45"/><rect x="211" y="586" width="1" height="1" fill="#006000" fill-opacity=".45"/><rect x="206" y="587" width="1" height="1" fill="#006000" fill-opacity=".45"/><rect x="207" y="587" width="1" height="1" fill="#006000"/><rect x="208" y="587" width="1" height="1" fill="#006000"/><rect x="209" y="587" width="1" height="1" fill="#006000" fill-opacity=".45"/><rect x="210" y="587" width="1" height="1" fill="#006000" fill-opacity=".45"/><rect x="211" y="587" width="1" height="1" fill="#006000"/><rect x="207" y="588" width="1" height="1" fill="#006000" fill-opacity=".45"/><rect x="208" y="588" width="1" height="1" fill="#006000"/><rect x="211" y="588" width="1" height="1" fill="#006000"/><rect x="207" y="589" width="1" height="1" fill="#006000" fill-opacity=".45"/><rect x="208" y="589" width="1" height="1" fill="#006000"/><rect x="209" y="589" width="1" height="1" fill="#006000"/><rect x="210" y="589" width="1" height="1" fill="#006000"/><rect x="211" y="589" width="1" height="1" fill="#006000"/><rect x="291" y="583" width="1" height="1" fill="#006000"/><rect x="293" y="583" width="1" height="1" fill="#006000"/><rect x="290" y="584" width="1" height="1" fill="#006000" fill-opacity=".45"/><rect x="291" y="584" width="1" height="1" fill="#006000"/><rect x="293" y="584" width="1" height="1" fill="#006000"/><rect x="294" y="584" width="1" height="1" fill="#006000"/><rect x="290" y="585" width="1" height="1" fill="#006000"/><rect x="292" y="585" width="1" height="1" fill="#006000"/><rect x="294" y="585" width="1" height="1" fill="#006000"/><rect x="295" y="585" width="1" height="1" fill="#006000" fill-opacity=".45"/><rect x="289" y="586" width="1" height="1" fill="#006000" fill-opacity=".45"/><rect x="291" y="586" width="1" height="1" fill="#006000"/><rect x="292" y="586" width="1" height="1" fill="#006000"/><rect x="295" y="586" width="1" height="1" fill="#006000" fill-opacity=".45"/><rect x="291" y="587" width="1" height="1" fill="#006000"/><rect x="293" y="587" width="1" height="1" fill="#006000"/><rect x="294" y="587" width="1" height="1" fill="#006000" fill-opacity=".45"/><rect x="290" y="588" width="1" height="1" fill="#006000"/><rect x="291" y="588" width="1" height="1" fill="#006000"/><rect x="292" y="588" width="1" height="1" fill="#006000"/><rect x="293" y="588" width="1" height="1" fill="#006000"/><rect x="294" y="588" width="1" height="1" fill="#006000"/><rect x="295" y="589" width="1" height="1" fill="#006000" fill-opacity=".45"/><rect x="297" y="583" width="1" height="1" fill="#006000" fill-opacity=".45"/><rect x="298" y="583" width="1" height="1" fill="#006000"/><rect x="299" y="583" width="1" height="1" fill="#006000"/><rect x="300" y="583" width="1" height="1" fill="#006000"/><rect x="301" y="583" width="1" height="1" fill="#006000"/><rect x="302" y="583" width="1" height="1" fill="#006000"/><rect x="298" y="584" width="1" height="1" fill="#006000"/><rect x="299" y="584" width="1" height="1" fill="#006000"/><rect x="300" y="584" width="1" height="1" fill="#006000"/><rect x="301" y="584" width="1" height="1" fill="#006000" fill-opacity=".45"/><rect x="302" y="584" width="1" height="1" fill="#006000"/><rect x="303" y="584" width="1" height="1" fill="#006000" fill-opacity=".45"/><rect x="298" y="585" width="1" height="1" fill="#006000" fill-opacity=".45"/><rect x="299" y="585" width="1" height="1" fill="#006000" fill-opacity=".45"/><rect x="300" y="585" width="1" height="1" fill="#006000" fill-opacity=".45"/><rect x="302" y="585" width="1" height="1" fill="#006000"/><rect x="303" y="585" width="1" height="1" fill="#006000" fill-opacity=".45"/><rect x="298" y="586" width="1" height="1" fill="#006000"/><rect x="299" y="586" width="1" height="1" fill="#006000"/><rect x="300" y="586" width="1" height="1" fill="#006000"/><rect x="301" y="586" width="1" height="1" fill="#006000"/><rect x="302" y="586" width="1" height="1" fill="#006000"/><rect x="303" y="586" width="1" height="1" fill="#006000" fill-opacity=".45"/><rect x="298" y="587" width="1" height="1" fill="#006000"/><rect x="299" y="587" width="1" height="1" fill="#006000" fill-opacity=".45"/><rect x="300" y="587" width="1" height="1" fill="#006000"/><rect x="301" y="587" width="1" height="1" fill="#006000"/><rect x="302" y="587" width="1" height="1" fill="#006000"/><rect x="303" y="587" width="1" height="1" fill="#006000" fill-opacity=".45"/><rect x="298" y="588" width="1" height="1" fill="#006000"/><rect x="299" y="588" width="1" height="1" fill="#006000" fill-opacity=".45"/><rect x="300" y="588" width="1" height="1" fill="#006000" fill-opacity=".45"/><rect x="302" y="588" width="1" height="1" fill="#006000"/><rect x="303" y="588" width="1" height="1" fill="#006000" fill-opacity=".45"/><rect x="301" y="589" width="1" height="1" fill="#006000" fill-opacity=".45"/><rect x="302" y="589" width="1" height="1" fill="#006000"/><rect x="382" y="583" width="1" height="1" fill="#006000"/><rect x="379" y="584" width="1" height="1" fill="#006000"/><rect x="380" y="584" width="1" height="1" fill="#006000"/><rect x="381" y="584" width="1" height="1" fill="#006000"/><rect x="382" y="584" width="1" height="1" fill="#006000"/><rect x="383" y="584" width="1" height="1" fill="#006000"/><rect x="384" y="584" width="1" height="1" fill="#006000"/><rect x="385" y="584" width="1" height="1" fill="#006000"/><rect x="380" y="585" width="1" height="1" fill="#006000"/><rect x="381" y="585" width="1" height="1" fill="#006000" fill-opacity=".45"/><rect x="383" y="585" width="1" height="1" fill="#006000" fill-opacity=".45"/><rect x="384" y="585" width="1" height="1" fill="#006000"/><rect x="381" y="586" width="1" height="1" fill="#006000"/><rect x="383" y="586" width="1" height="1" fill="#006000"/><rect x="381" y="587" width="1" height="1" fill="#006000" fill-opacity=".45"/><rect x="382" y="587" width="1" height="1" fill="#006000"/><rect x="383" y="587" width="1" height="1" fill="#006000" fill-opacity=".45"/><rect x="380" y="588" width="1" height="1" fill="#006000" fill-opacity=".45"/><rect x="381" y="588" width="1" height="1" fill="#006000"/><rect x="382" y="588" width="1" height="1" fill="#006000"/><rect x="383" y="588" width="1" height="1" fill="#006000"/><rect x="384" y="588" width="1" height="1" fill="#006000" fill-opacity=".45"/><rect x="379" y="589" width="1" height="1" fill="#006000"/><rect x="380" y="589" width="1" height="1" fill="#006000"/><rect x="384" y="589" width="1" height="1" fill="#006000"/><rect x="385" y="589" width="1" height="1" fill="#006000"/><rect x="388" y="583" width="1" height="1" fill="#006000" fill-opacity=".45"/><rect x="389" y="583" width="1" height="1" fill="#006000" fill-opacity=".45"/><rect x="390" y="583" width="1" height="1" fill="#006000" fill-opacity=".45"/><rect x="391" y="583" width="1" height="1" fill="#006000"/><rect x="388" y="584" width="1" height="1" fill="#006000"/><rect x="389" y="584" width="1" height="1" fill="#006000" fill-opacity=".45"/><rect x="390" y="584" width="1" height="1" fill="#006000"/><rect x="391" y="584" width="1" height="1" fill="#006000"/><rect x="392" y="584" width="1" height="1" fill="#006000"/><rect x="387" y="585" width="1" height="1" fill="#006000"/><rect x="388" y="585" width="1" height="1" fill="#006000"/><rect x="389" y="585" width="1" height="1" fill="#006000"/><rect x="391" y="585" width="1" height="1" fill="#006000"/><rect x="388" y="586" width="1" height="1" fill="#006000"/><rect x="389" y="586" width="1" height="1" fill="#006000"/><rect x="390" y="586" width="1" height="1" fill="#006000"/><rect x="391" y="586" width="1" height="1" fill="#006000"/><rect x="392" y="586" width="1" height="1" fill="#006000"/><rect x="393" y="586" width="1" height="1" fill="#006000" fill-opacity=".45"/><rect x="388" y="587" width="1" height="1" fill="#006000"/><rect x="391" y="587" width="1" height="1" fill="#006000"/><rect x="388" y="588" width="1" height="1" fill="#006000"/><rect x="391" y="588" width="1" height="1" fill="#006000"/><rect x="388" y="589" width="1" height="1" fill="#006000"/><rect x="391" y="589" width="1" height="1" fill="#006000"/><rect x="595" y="583" width="1" height="1" fill="#006000"/><rect x="597" y="583" width="1" height="1" fill="#006000" fill-opacity=".45"/><rect x="598" y="583" width="1" height="1" fill="#006000" fill-opacity=".45"/><rect x="599" y="583" width="1" height="1" fill="#006000" fill-opacity=".45"/><rect x="595" y="584" width="1" height="1" fill="#006000"/><rect x="596" y="584" width="1" height="1" fill="#006000" fill-opacity=".45"/><rect x="597" y="584" width="1" height="1" fill="#006000" fill-opacity=".45"/><rect x="598" y="584" width="1" height="1" fill="#006000" fill-opacity=".45"/><rect x="599" y="584" width="1" height="1" fill="#006000" fill-opacity=".45"/><rect x="595" y="585" width="1" height="1" fill="#006000"/><rect x="596" y="585" width="1" height="1" fill="#006000"/><rect x="597" y="585" width="1" height="1" fill="#006000"/><rect x="598" y="585" width="1" height="1" fill="#006000"/><rect x="599" y="585" width="1" height="1" fill="#006000"/><rect x="600" y="585" width="1" height="1" fill="#006000"/><rect x="595" y="586" width="1" height="1" fill="#006000"/><rect x="596" y="586" width="1" height="1" fill="#006000"/><rect x="598" y="586" width="1" height="1" fill="#006000"/><rect x="594" y="587" width="1" height="1" fill="#006000"/><rect x="595" y="587" width="1" height="1" fill="#006000"/><rect x="597" y="587" width="1" height="1" fill="#006000"/><rect x="598" y="587" width="1" height="1" fill="#006000"/><rect x="599" y="587" width="1" height="1" fill="#006000"/><rect x="600" y="587" width="1" height="1" fill="#006000" fill-opacity=".45"/><rect x="595" y="588" width="1" height="1" fill="#006000"/><rect x="596" y="588" width="1" height="1" fill="#006000" fill-opacity=".45"/><rect x="597" y="588" width="1" height="1" fill="#006000"/><rect x="598" y="588" width="1" height="1" fill="#006000"/><rect x="600" y="588" width="1" height="1" fill="#006000"/><rect x="595" y="589" width="1" height="1" fill="#006000"/><rect x="597" y="589" width="1" height="1" fill="#006000" fill-opacity=".45"/><rect x="598" y="589" width="1" height="1" fill="#006000"/><rect x="602" y="583" width="1" height="1" fill="#006000" fill-opacity=".45"/><rect x="603" y="583" width="1" height="1" fill="#006000"/><rect x="604" y="583" width="1" height="1" fill="#006000"/><rect x="605" y="583" width="1" height="1" fill="#006000"/><rect x="606" y="583" width="1" height="1" fill="#006000"/><rect x="607" y="583" width="1" height="1" fill="#006000"/><rect x="608" y="583" width="1" height="1" fill="#006000" fill-opacity=".45"/><rect x="602" y="584" width="1" height="1" fill="#006000" fill-opacity=".45"/><rect x="603" y="584" width="1" height="1" fill="#006000"/><rect x="604" y="584" width="1" height="1" fill="#006000"/><rect x="605" y="584" width="1" height="1" fill="#006000" fill-opacity=".45"/><rect x="606" y="584" width="1" height="1" fill="#006000"/><rect x="607" y="584" width="1" height="1" fill="#006000"/><rect x="608" y="584" width="1" height="1" fill="#006000" fill-opacity=".45"/><rect x="603" y="585" width="1" height="1" fill="#006000"/><rect x="604" y="585" width="1" height="1" fill="#006000"/><rect x="605" y="585" width="1" height="1" fill="#006000" fill-opacity=".45"/><rect x="606" y="585" width="1" height="1" fill="#006000"/><rect x="607" y="585" width="1" height="1" fill="#006000"/><rect x="608" y="585" width="1" height="1" fill="#006000"/><rect x="602" y="586" width="1" height="1" fill="#006000"/><rect x="603" y="586" width="1" height="1" fill="#006000"/><rect x="604" y="586" width="1" height="1" fill="#006000"/><rect x="605" y="586" width="1" height="1" fill="#006000"/><rect x="606" y="586" width="1" height="1" fill="#006000"/><rect x="607" y="586" width="1" height="1" fill="#006000"/><rect x="608" y="586" width="1" height="1" fill="#006000"/><rect x="602" y="587" width="1" height="1" fill="#006000" fill-opacity=".45"/><rect x="603" y="587" width="1" height="1" fill="#006000"/><rect x="604" y="587" width="1" height="1" fill="#006000"/><rect x="605" y="587" width="1" height="1" fill="#006000" fill-opacity=".45"/><rect x="606" y="587" width="1" height="1" fill="#006000"/><rect x="607" y="587" width="1" height="1" fill="#006000"/><rect x="608" y="587" width="1" height="1" fill="#006000" fill-opacity=".45"/><rect x="602" y="588" width="1" height="1" fill="#006000"/><rect x="603" y="588" width="1" height="1" fill="#006000"/><rect x="604" y="588" width="1" height="1" fill="#006000"/><rect x="605" y="588" width="1" height="1" fill="#006000"/><rect x="606" y="588" width="1" height="1" fill="#006000" fill-opacity=".45"/><rect x="608" y="588" width="1" height="1" fill="#006000"/><rect x="602" y="589" width="1" height="1" fill="#006000" fill-opacity=".45"/><rect x="604" y="589" width="1" height="1" fill="#006000" fill-opacity=".45"/><rect x="605" y="589" width="1" height="1" fill="#006000"/><rect x="606" y="589" width="1" height="1" fill="#006000"/><rect x="607" y="589" width="1" height="1" fill="#006000"/><rect x="608" y="589" width="1" height="1" fill="#006000" fill-opacity=".45"/><rect x="19" y="601" width="1" height="1" fill="#006000" fill-opacity=".45"/><rect x="20" y="601" width="1" height="1" fill="#006000"/><rect x="24" y="601" width="1" height="1" fill="#006000"/><rect x="18" y="602" width="1" height="1" fill="#006000"/><rect x="19" y="602" width="1" height="1" fill="#006000"/><rect x="20" y="602" width="1" height="1" fill="#006000"/><rect x="21" y="602" width="1" height="1" fill="#006000"/><rect x="22" y="602" width="1" height="1" fill="#006000" fill-opacity=".45"/><rect x="23" y="602" width="1" height="1" fill="#006000" fill-opacity=".45"/><rect x="24" y="602" width="1" height="1" fill="#006000"/><rect x="18" y="603" width="1" height="1" fill="#006000"/><rect x="19" y="603" width="1" height="1" fill="#006000"/><rect x="20" y="603" width="1" height="1" fill="#006000"/><rect x="21" y="603" width="1" height="1" fill="#006000"/><rect x="22" y="603" width="1" height="1" fill="#006000"/><rect x="23" y="603" width="1" height="1" fill="#006000" fill-opacity=".45"/><rect x="24" y="603" width="1" height="1" fill="#006000"/><rect x="19" y="604" width="1" height="1" fill="#006000"/><rect x="20" y="604" width="1" height="1" fill="#006000"/><rect x="21" y="604" width="1" height="1" fill="#006000"/><rect x="22" y="604" width="1" height="1" fill="#006000" fill-opacity=".45"/><rect x="23" y="604" width="1" height="1" fill="#006000" fill-opacity=".45"/><rect x="24" y="604" width="1" height="1" fill="#006000"/><rect x="18" y="605" width="1" height="1" fill="#006000"/><rect x="19" y="605" width="1" height="1" fill="#006000" fill-opacity=".45"/><rect x="20" y="605" width="1" height="1" fill="#006000"/><rect x="21" y="605" width="1" height="1" fill="#006000"/><rect x="22" y="605" width="1" height="1" fill="#006000" fill-opacity=".45"/><rect x="23" y="605" width="1" height="1" fill="#006000" fill-opacity=".45"/><rect x="24" y="605" width="1" height="1" fill="#006000"/><rect x="18" y="606" width="1" height="1" fill="#006000"/><rect x="20" y="606" width="1" height="1" fill="#006000"/><rect x="21" y="606" width="1" height="1" fill="#006000"/><rect x="24" y="606" width="1" height="1" fill="#006000"/><rect x="20" y="607" width="1" height="1" fill="#006000"/><rect x="23" y="607" width="1" height="1" fill="#006000"/><rect x="24" y="607" width="1" height="1" fill="#006000" fill-opacity=".45"/><rect x="26" y="601" width="1" height="1" fill="#006000" fill-opacity=".45"/><rect x="27" y="601" width="1" height="1" fill="#006000"/><rect x="28" y="601" width="1" height="1" fill="#006000"/><rect x="29" y="601" width="1" height="1" fill="#006000"/><rect x="30" y="601" width="1" height="1" fill="#006000"/><rect x="31" y="601" width="1" height="1" fill="#006000"/><rect x="32" y="601" width="1" height="1" fill="#006000"/><rect x="26" y="602" width="1" height="1" fill="#006000"/><rect x="28" y="602" width="1" height="1" fill="#006000"/><rect x="29" y="602" width="1" height="1" fill="#006000"/><rect x="30" y="602" width="1" height="1" fill="#006000"/><rect x="32" y="602" width="1" height="1" fill="#006000"/><rect x="26" y="603" width="1" height="1" fill="#006000"/><rect x="27" y="603" width="1" height="1" fill="#006000"/><rect x="28" y="603" width="1" height="1" fill="#006000"/><rect x="29" y="603" width="1" height="1" fill="#006000"/><rect x="30" y="603" width="1" height="1" fill="#006000"/><rect x="32" y="603" width="1" height="1" fill="#006000"/><rect x="26" y="604" width="1" height="1" fill="#006000"/><rect x="27" y="604" width="1" height="1" fill="#006000"/><rect x="28" y="604" width="1" height="1" fill="#006000"/><rect x="29" y="604" width="1" height="1" fill="#006000"/><rect x="30" y="604" width="1" height="1" fill="#006000"/><rect x="31" y="604" width="1" height="1" fill="#006000"/><rect x="32" y="604" width="1" height="1" fill="#006000"/><rect x="26" y="605" width="1" height="1" fill="#006000"/><rect x="28" y="605" width="1" height="1" fill="#006000"/><rect x="29" y="605" width="1" height="1" fill="#006000"/><rect x="30" y="605" width="1" height="1" fill="#006000" fill-opacity=".45"/><rect x="32" y="605" width="1" height="1" fill="#006000"/><rect x="26" y="606" width="1" height="1" fill="#006000"/><rect x="27" y="606" width="1" height="1" fill="#006000"/><rect x="28" y="606" width="1" height="1" fill="#006000" fill-opacity=".45"/><rect x="29" y="606" width="1" height="1" fill="#006000"/><rect x="30" y="606" width="1" height="1" fill="#006000"/><rect x="31" y="606" width="1" height="1" fill="#006000"/><rect x="32" y="606" width="1" height="1" fill="#006000"/><rect x="26" y="607" width="1" height="1" fill="#006000" fill-opacity=".45"/><rect x="27" y="607" width="1" height="1" fill="#006000" fill-opacity=".45"/><rect x="28" y="607" width="1" height="1" fill="#006000" fill-opacity=".45"/><rect x="29" y="607" width="1" height="1" fill="#006000" fill-opacity=".45"/><rect x="30" y="607" width="1" height="1" fill="#006000" fill-opacity=".45"/><rect x="31" y="607" width="1" height="1" fill="#006000" fill-opacity=".45"/><rect x="32" y="607" width="1" height="1" fill="#006000" fill-opacity=".45"/><rect x="21" y="619" width="1" height="1" fill="#006000"/><rect x="18" y="620" width="1" height="1" fill="#006000"/><rect x="19" y="620" width="1" height="1" fill="#006000"/><rect x="20" y="620" width="1" height="1" fill="#006000"/><rect x="21" y="620" width="1" height="1" fill="#006000"/><rect x="22" y="620" width="1" height="1" fill="#006000"/><rect x="23" y="620" width="1" height="1" fill="#006000"/><rect x="24" y="620" width="1" height="1" fill="#006000"/><rect x="19" y="621" width="1" height="1" fill="#006000"/><rect x="20" y="621" width="1" height="1" fill="#006000"/><rect x="21" y="621" width="1" height="1" fill="#006000"/><rect x="22" y="621" width="1" height="1" fill="#006000"/><rect x="23" y="621" width="1" height="1" fill="#006000"/><rect x="19" y="622" width="1" height="1" fill="#006000"/><rect x="20" y="622" width="1" height="1" fill="#006000"/><rect x="21" y="622" width="1" height="1" fill="#006000"/><rect x="22" y="622" width="1" height="1" fill="#006000"/><rect x="23" y="622" width="1" height="1" fill="#006000"/><rect x="19" y="623" width="1" height="1" fill="#006000"/><rect x="20" y="623" width="1" height="1" fill="#006000" fill-opacity=".45"/><rect x="21" y="623" width="1" height="1" fill="#006000"/><rect x="22" y="623" width="1" height="1" fill="#006000" fill-opacity=".45"/><rect x="23" y="623" width="1" height="1" fill="#006000"/><rect x="19" y="624" width="1" height="1" fill="#006000"/><rect x="20" y="624" width="1" height="1" fill="#006000"/><rect x="21" y="624" width="1" height="1" fill="#006000"/><rect x="22" y="624" width="1" height="1" fill="#006000"/><rect x="23" y="624" width="1" height="1" fill="#006000"/><rect x="21" y="625" width="1" height="1" fill="#006000"/><rect x="27" y="619" width="1" height="1" fill="#006000"/><rect x="30" y="619" width="1" height="1" fill="#006000"/><rect x="26" y="620" width="1" height="1" fill="#006000" fill-opacity=".45"/><rect x="27" y="620" width="1" height="1" fill="#006000"/><rect x="28" y="620" width="1" height="1" fill="#006000"/><rect x="29" y="620" width="1" height="1" fill="#006000"/><rect x="30" y="620" width="1" height="1" fill="#006000"/><rect x="31" y="620" width="1" height="1" fill="#006000"/><rect x="32" y="620" width="1" height="1" fill="#006000"/><rect x="27" y="621" width="1" height="1" fill="#006000"/><rect x="29" y="621" width="1" height="1" fill="#006000"/><rect x="30" y="621" width="1" height="1" fill="#006000" fill-opacity=".45"/><rect x="31" y="621" width="1" height="1" fill="#006000"/><rect x="27" y="622" width="1" height="1" fill="#006000"/><rect x="28" y="622" width="1" height="1" fill="#006000"/><rect x="29" y="622" width="1" height="1" fill="#006000"/><rect x="30" y="622" width="1" height="1" fill="#006000"/><rect x="31" y="622" width="1" height="1" fill="#006000"/><rect x="26" y="623" width="1" height="1" fill="#006000"/><rect x="27" y="623" width="1" height="1" fill="#006000"/><rect x="29" y="623" width="1" height="1" fill="#006000"/><rect x="30" y="623" width="1" height="1" fill="#006000" fill-opacity=".45"/><rect x="31" y="623" width="1" height="1" fill="#006000"/><rect x="27" y="624" width="1" height="1" fill="#006000"/><rect x="29" y="624" width="1" height="1" fill="#006000" fill-opacity=".45"/><rect x="30" y="624" width="1" height="1" fill="#006000"/><rect x="31" y="624" width="1" height="1" fill="#006000"/><rect x="27" y="625" width="1" height="1" fill="#006000"/><rect x="28" y="625" width="1" height="1" fill="#006000" fill-opacity=".45"/><rect x="29" y="625" width="1" height="1" fill="#006000"/><rect x="32" y="625" width="1" height="1" fill="#006000"/><rect x="812" y="586" width="1" height="1" fill="#006000"/><rect x="813" y="586" width="1" height="1" fill="#006000"/><rect x="814" y="586" width="1" height="1" fill="#006000"/><rect x="815" y="586" width="1" height="1" fill="#006000"/><rect x="816" y="586" width="1" height="1" fill="#006000"/><rect x="812" y="587" width="1" height="1" fill="#006000"/><rect x="816" y="587" width="1" height="1" fill="#006000"/><rect x="812" y="588" width="1" height="1" fill="#006000"/><rect x="816" y="588" width="1" height="1" fill="#006000"/><rect x="812" y="589" width="1" height="1" fill="#006000"/><rect x="813" y="589" width="1" height="1" fill="#006000"/><rect x="814" y="589" width="1" height="1" fill="#006000"/><rect x="815" y="589" width="1" height="1" fill="#006000"/><rect x="816" y="589" width="1" height="1" fill="#006000"/><rect x="812" y="590" width="1" height="1" fill="#006000"/><rect x="816" y="590" width="1" height="1" fill="#006000"/><rect x="812" y="591" width="1" height="1" fill="#006000"/><rect x="813" y="591" width="1" height="1" fill="#006000"/><rect x="814" y="591" width="1" height="1" fill="#006000"/><rect x="815" y="591" width="1" height="1" fill="#006000"/><rect x="816" y="591" width="1" height="1" fill="#006000"/><rect x="812" y="592" width="1" height="1" fill="#006000" fill-opacity=".45"/><rect x="816" y="592" width="1" height="1" fill="#006000" fill-opacity=".45"/><rect x="819" y="586" width="1" height="1" fill="#006000"/><rect x="820" y="586" width="1" height="1" fill="#006000" fill-opacity=".45"/><rect x="822" y="586" width="1" height="1" fill="#006000"/><rect x="823" y="586" width="1" height="1" fill="#006000"/><rect x="824" y="586" width="1" height="1" fill="#006000" fill-opacity=".45"/><rect x="818" y="587" width="1" height="1" fill="#006000"/><rect x="819" y="587" width="1" height="1" fill="#006000"/><rect x="820" y="587" width="1" height="1" fill="#006000"/><rect x="821" y="587" width="1" height="1" fill="#006000"/><rect x="822" y="587" width="1" height="1" fill="#006000"/><rect x="824" y="587" width="1" height="1" fill="#006000"/><rect x="819" y="588" width="1" height="1" fill="#006000"/><rect x="820" y="588" width="1" height="1" fill="#006000"/><rect x="821" y="588" width="1" height="1" fill="#006000" fill-opacity=".45"/><rect x="822" y="588" width="1" height="1" fill="#006000"/><rect x="823" y="588" width="1" height="1" fill="#006000"/><rect x="824" y="588" width="1" height="1" fill="#006000"/><rect x="819" y="589" width="1" height="1" fill="#006000"/><rect x="820" y="589" width="1" height="1" fill="#006000"/><rect x="821" y="589" width="1" height="1" fill="#006000" fill-opacity=".45"/><rect x="822" y="589" width="1" height="1" fill="#006000"/><rect x="823" y="589" width="1" height="1" fill="#006000" fill-opacity=".45"/><rect x="824" y="589" width="1" height="1" fill="#006000"/><rect x="818" y="590" width="1" height="1" fill="#006000"/><rect x="819" y="590" width="1" height="1" fill="#006000"/><rect x="820" y="590" width="1" height="1" fill="#006000"/><rect x="821" y="590" width="1" height="1" fill="#006000"/><rect x="822" y="590" width="1" height="1" fill="#006000"/><rect x="823" y="590" width="1" height="1" fill="#006000" fill-opacity=".45"/><rect x="824" y="590" width="1" height="1" fill="#006000"/><rect x="819" y="591" width="1" height="1" fill="#006000"/><rect x="820" y="591" width="1" height="1" fill="#006000"/><rect x="821" y="591" width="1" height="1" fill="#006000"/><rect x="822" y="591" width="1" height="1" fill="#006000" fill-opacity=".45"/><rect x="824" y="591" width="1" height="1" fill="#006000"/><rect x="818" y="592" width="1" height="1" fill="#006000" fill-opacity=".45"/><rect x="821" y="592" width="1" height="1" fill="#006000"/><rect x="823" y="592" width="1" height="1" fill="#006000"/><rect x="824" y="592" width="1" height="1" fill="#006000" fill-opacity=".45"/><rect x="918" y="586" width="1" height="1" fill="#006000" fill-opacity=".45"/><rect x="919" y="586" width="1" height="1" fill="#006000"/><rect x="920" y="586" width="1" height="1" fill="#006000"/><rect x="921" y="586" width="1" height="1" fill="#006000"/><rect x="922" y="586" width="1" height="1" fill="#006000"/><rect x="923" y="586" width="1" height="1" fill="#006000"/><rect x="924" y="586" width="1" height="1" fill="#006000" fill-opacity=".45"/><rect x="919" y="587" width="1" height="1" fill="#006000" fill-opacity=".45"/><rect x="920" y="587" width="1" height="1" fill="#006000" fill-opacity=".45"/><rect x="921" y="587" width="1" height="1" fill="#006000"/><rect x="922" y="587" width="1" height="1" fill="#006000" fill-opacity=".45"/><rect x="923" y="587" width="1" height="1" fill="#006000" fill-opacity=".45"/><rect x="919" y="588" width="1" height="1" fill="#006000"/><rect x="920" y="588" width="1" height="1" fill="#006000" fill-opacity=".45"/><rect x="921" y="588" width="1" height="1" fill="#006000"/><rect x="922" y="588" width="1" height="1" fill="#006000" fill-opacity=".45"/><rect x="923" y="588" width="1" height="1" fill="#006000"/><rect x="919" y="589" width="1" height="1" fill="#006000"/><rect x="921" y="589" width="1" height="1" fill="#006000"/><rect x="923" y="589" width="1" height="1" fill="#006000"/><rect x="919" y="590" width="1" height="1" fill="#006000"/><rect x="921" y="590" width="1" height="1" fill="#006000"/><rect x="923" y="590" width="1" height="1" fill="#006000"/><rect x="919" y="591" width="1" height="1" fill="#006000" fill-opacity=".45"/><rect x="920" y="591" width="1" height="1" fill="#006000"/><rect x="921" y="591" width="1" height="1" fill="#006000" fill-opacity=".45"/><rect x="922" y="591" width="1" height="1" fill="#006000"/><rect x="923" y="591" width="1" height="1" fill="#006000"/><rect x="918" y="592" width="1" height="1" fill="#006000" fill-opacity=".45"/><rect x="919" y="592" width="1" height="1" fill="#006000"/><rect x="924" y="592" width="1" height="1" fill="#006000" fill-opacity=".45"/><rect x="813" y="613" width="1" height="1" fill="#006000"/><rect x="810" y="614" width="1" height="1" fill="#006000"/><rect x="811" y="614" width="1" height="1" fill="#006000"/><rect x="812" y="614" width="1" height="1" fill="#006000"/><rect x="813" y="614" width="1" height="1" fill="#006000"/><rect x="814" y="614" width="1" height="1" fill="#006000"/><rect x="815" y="614" width="1" height="1" fill="#006000"/><rect x="816" y="614" width="1" height="1" fill="#006000"/><rect x="811" y="615" width="1" height="1" fill="#006000"/><rect x="812" y="615" width="1" height="1" fill="#006000" fill-opacity=".45"/><rect x="814" y="615" width="1" height="1" fill="#006000" fill-opacity=".45"/><rect x="815" y="615" width="1" height="1" fill="#006000"/><rect x="812" y="616" width="1" height="1" fill="#006000"/><rect x="814" y="616" width="1" height="1" fill="#006000"/><rect x="812" y="617" width="1" height="1" fill="#006000" fill-opacity=".45"/><rect x="813" y="617" width="1" height="1" fill="#006000"/><rect x="814" y="617" width="1" height="1" fill="#006000" fill-opacity=".45"/><rect x="811" y="618" width="1" height="1" fill="#006000" fill-opacity=".45"/><rect x="812" y="618" width="1" height="1" fill="#006000"/><rect x="813" y="618" width="1" height="1" fill="#006000"/><rect x="814" y="618" width="1" height="1" fill="#006000"/><rect x="815" y="618" width="1" height="1" fill="#006000" fill-opacity=".45"/><rect x="810" y="619" width="1" height="1" fill="#006000"/><rect x="811" y="619" width="1" height="1" fill="#006000"/><rect x="815" y="619" width="1" height="1" fill="#006000"/><rect x="816" y="619" width="1" height="1" fill="#006000"/><rect x="819" y="613" width="1" height="1" fill="#006000" fill-opacity=".45"/><rect x="820" y="613" width="1" height="1" fill="#006000" fill-opacity=".45"/><rect x="821" y="613" width="1" height="1" fill="#006000" fill-opacity=".45"/><rect x="822" y="613" width="1" height="1" fill="#006000"/><rect x="819" y="614" width="1" height="1" fill="#006000"/><rect x="820" y="614" width="1" height="1" fill="#006000" fill-opacity=".45"/><rect x="821" y="614" width="1" height="1" fill="#006000"/><rect x="822" y="614" width="1" height="1" fill="#006000"/><rect x="823" y="614" width="1" height="1" fill="#006000"/><rect x="818" y="615" width="1" height="1" fill="#006000"/><rect x="819" y="615" width="1" height="1" fill="#006000"/><rect x="820" y="615" width="1" height="1" fill="#006000"/><rect x="822" y="615" width="1" height="1" fill="#006000"/><rect x="819" y="616" width="1" height="1" fill="#006000"/><rect x="820" y="616" width="1" height="1" fill="#006000"/><rect x="821" y="616" width="1" height="1" fill="#006000"/><rect x="822" y="616" width="1" height="1" fill="#006000"/><rect x="823" y="616" width="1" height="1" fill="#006000"/><rect x="824" y="616" width="1" height="1" fill="#006000" fill-opacity=".45"/><rect x="819" y="617" width="1" height="1" fill="#006000"/><rect x="822" y="617" width="1" height="1" fill="#006000"/><rect x="819" y="618" width="1" height="1" fill="#006000"/><rect x="822" y="618" width="1" height="1" fill="#006000"/><rect x="819" y="619" width="1" height="1" fill="#006000"/><rect x="822" y="619" width="1" height="1" fill="#006000"/><rect x="886.0" y="613" width="1" height="1" fill="#006000"/><rect x="887.0" y="613" width="1" height="1" fill="#006000"/><rect x="888.0" y="613" width="1" height="1" fill="#006000"/><rect x="889.0" y="613" width="1" height="1" fill="#006000"/><rect x="890.0" y="613" width="1" height="1" fill="#006000"/><rect x="885.0" y="614" width="1" height="1" fill="#006000"/><rect x="886.0" y="614" width="1" height="1" fill="#006000" fill-opacity=".45"/><rect x="887.0" y="614" width="1" height="1" fill="#006000"/><rect x="889.0" y="614" width="1" height="1" fill="#006000"/><rect x="890.0" y="614" width="1" height="1" fill="#006000" fill-opacity=".45"/><rect x="891.0" y="614" width="1" height="1" fill="#006000"/><rect x="885.0" y="615" width="1" height="1" fill="#006000"/><rect x="887.0" y="615" width="1" height="1" fill="#006000"/><rect x="889.0" y="615" width="1" height="1" fill="#006000"/><rect x="890.0" y="615" width="1" height="1" fill="#006000" fill-opacity=".45"/><rect x="891.0" y="615" width="1" height="1" fill="#006000"/><rect x="885.0" y="616" width="1" height="1" fill="#006000"/><rect x="886.0" y="616" width="1" height="1" fill="#006000" fill-opacity=".45"/><rect x="887.0" y="616" width="1" height="1" fill="#006000"/><rect x="889.0" y="616" width="1" height="1" fill="#006000"/><rect x="890.0" y="616" width="1" height="1" fill="#006000"/><rect x="891.0" y="616" width="1" height="1" fill="#006000"/><rect x="885.0" y="617" width="1" height="1" fill="#006000"/><rect x="886.0" y="617" width="1" height="1" fill="#006000"/><rect x="890.0" y="617" width="1" height="1" fill="#006000" fill-opacity=".45"/><rect x="891.0" y="617" width="1" height="1" fill="#006000"/><rect x="885.0" y="618" width="1" height="1" fill="#006000"/><rect x="886.0" y="618" width="1" height="1" fill="#006000"/><rect x="887.0" y="618" width="1" height="1" fill="#006000"/><rect x="888.0" y="618" width="1" height="1" fill="#006000"/><rect x="889.0" y="618" width="1" height="1" fill="#006000"/><rect x="890.0" y="618" width="1" height="1" fill="#006000"/><rect x="891.0" y="618" width="1" height="1" fill="#006000"/><rect x="895.8" y="613" width="1" height="1" fill="#006000"/><rect x="894.8" y="614" width="1" height="1" fill="#006000"/><rect x="895.8" y="614" width="1" height="1" fill="#006000"/><rect x="896.8" y="614" width="1" height="1" fill="#006000"/><rect x="893.8" y="615" width="1" height="1" fill="#006000"/><rect x="894.8" y="615" width="1" height="1" fill="#006000" fill-opacity=".45"/><rect x="895.8" y="615" width="1" height="1" fill="#006000"/><rect x="896.8" y="615" width="1" height="1" fill="#006000" fill-opacity=".45"/><rect x="897.8" y="615" width="1" height="1" fill="#006000"/><rect x="892.8" y="616" width="1" height="1" fill="#006000" fill-opacity=".45"/><rect x="895.8" y="616" width="1" height="1" fill="#006000"/><rect x="898.8" y="616" width="1" height="1" fill="#006000" fill-opacity=".45"/><rect x="895.8" y="617" width="1" height="1" fill="#006000"/><rect x="895.8" y="618" width="1" height="1" fill="#006000"/><rect x="895.8" y="619" width="1" height="1" fill="#006000"/><rect x="901.6" y="613" width="1" height="1" fill="#006000"/><rect x="904.6" y="613" width="1" height="1" fill="#006000"/><rect x="900.6" y="614" width="1" height="1" fill="#006000" fill-opacity=".45"/><rect x="901.6" y="614" width="1" height="1" fill="#006000"/><rect x="902.6" y="614" width="1" height="1" fill="#006000"/><rect x="903.6" y="614" width="1" height="1" fill="#006000"/><rect x="904.6" y="614" width="1" height="1" fill="#006000"/><rect x="905.6" y="614" width="1" height="1" fill="#006000"/><rect x="906.6" y="614" width="1" height="1" fill="#006000"/><rect x="901.6" y="615" width="1" height="1" fill="#006000"/><rect x="902.6" y="615" width="1" height="1" fill="#006000" fill-opacity=".45"/><rect x="903.6" y="615" width="1" height="1" fill="#006000" fill-opacity=".45"/><rect x="904.6" y="615" width="1" height="1" fill="#006000"/><rect x="906.6" y="615" width="1" height="1" fill="#006000" fill-opacity=".45"/><rect x="901.6" y="616" width="1" height="1" fill="#006000"/><rect x="902.6" y="616" width="1" height="1" fill="#006000"/><rect x="903.6" y="616" width="1" height="1" fill="#006000"/><rect x="904.6" y="616" width="1" height="1" fill="#006000"/><rect x="905.6" y="616" width="1" height="1" fill="#006000"/><rect x="906.6" y="616" width="1" height="1" fill="#006000"/><rect x="900.6" y="617" width="1" height="1" fill="#006000"/><rect x="901.6" y="617" width="1" height="1" fill="#006000"/><rect x="903.6" y="617" width="1" height="1" fill="#006000"/><rect x="905.6" y="617" width="1" height="1" fill="#006000"/><rect x="901.6" y="618" width="1" height="1" fill="#006000"/><rect x="904.6" y="618" width="1" height="1" fill="#006000"/><rect x="905.6" y="618" width="1" height="1" fill="#006000"/><rect x="900.6" y="619" width="1" height="1" fill="#006000" fill-opacity=".45"/><rect x="901.6" y="619" width="1" height="1" fill="#006000"/><rect x="902.6" y="619" width="1" height="1" fill="#006000" fill-opacity=".45"/><rect x="903.6" y="619" width="1" height="1" fill="#006000"/><rect x="905.6" y="619" width="1" height="1" fill="#006000" fill-opacity=".45"/><rect x="906.6" y="619" width="1" height="1" fill="#006000"/><rect x="909.4" y="613" width="1" height="1" fill="#006000"/><rect x="911.4" y="613" width="1" height="1" fill="#006000"/><rect x="912.4" y="613" width="1" height="1" fill="#006000"/><rect x="913.4" y="613" width="1" height="1" fill="#006000"/><rect x="908.4" y="614" width="1" height="1" fill="#006000"/><rect x="909.4" y="614" width="1" height="1" fill="#006000"/><rect x="910.4" y="614" width="1" height="1" fill="#006000"/><rect x="912.4" y="614" width="1" height="1" fill="#006000"/><rect x="913.4" y="614" width="1" height="1" fill="#006000" fill-opacity=".45"/><rect x="914.4" y="614" width="1" height="1" fill="#006000"/><rect x="908.4" y="615" width="1" height="1" fill="#006000"/><rect x="909.4" y="615" width="1" height="1" fill="#006000"/><rect x="910.4" y="615" width="1" height="1" fill="#006000"/><rect x="912.4" y="615" width="1" height="1" fill="#006000"/><rect x="913.4" y="615" width="1" height="1" fill="#006000" fill-opacity=".45"/><rect x="914.4" y="615" width="1" height="1" fill="#006000" fill-opacity=".45"/><rect x="909.4" y="616" width="1" height="1" fill="#006000"/><rect x="910.4" y="616" width="1" height="1" fill="#006000" fill-opacity=".45"/><rect x="911.4" y="616" width="1" height="1" fill="#006000"/><rect x="912.4" y="616" width="1" height="1" fill="#006000"/><rect x="913.4" y="616" width="1" height="1" fill="#006000"/><rect x="914.4" y="616" width="1" height="1" fill="#006000" fill-opacity=".45"/><rect x="909.4" y="617" width="1" height="1" fill="#006000"/><rect x="910.4" y="617" width="1" height="1" fill="#006000" fill-opacity=".45"/><rect x="912.4" y="617" width="1" height="1" fill="#006000"/><rect x="913.4" y="617" width="1" height="1" fill="#006000"/><rect x="909.4" y="618" width="1" height="1" fill="#006000"/><rect x="910.4" y="618" width="1" height="1" fill="#006000"/><rect x="911.4" y="618" width="1" height="1" fill="#006000" fill-opacity=".45"/><rect x="912.4" y="618" width="1" height="1" fill="#006000" fill-opacity=".45"/><rect x="913.4" y="618" width="1" height="1" fill="#006000"/><rect x="909.4" y="619" width="1" height="1" fill="#006000"/><rect x="910.4" y="619" width="1" height="1" fill="#006000" fill-opacity=".45"/><rect x="911.4" y="619" width="1" height="1" fill="#006000"/><rect x="912.4" y="619" width="1" height="1" fill="#006000"/><rect x="913.4" y="619" width="1" height="1" fill="#006000"/><rect x="914.4" y="619" width="1" height="1" fill="#006000"/><rect x="917.2" y="613" width="1" height="1" fill="#006000"/><rect x="920.2" y="613" width="1" height="1" fill="#006000"/><rect x="916.2" y="614" width="1" height="1" fill="#006000" fill-opacity=".45"/><rect x="917.2" y="614" width="1" height="1" fill="#006000"/><rect x="918.2" y="614" width="1" height="1" fill="#006000"/><rect x="919.2" y="614" width="1" height="1" fill="#006000"/><rect x="920.2" y="614" width="1" height="1" fill="#006000"/><rect x="921.2" y="614" width="1" height="1" fill="#006000"/><rect x="922.2" y="614" width="1" height="1" fill="#006000"/><rect x="917.2" y="615" width="1" height="1" fill="#006000"/><rect x="918.2" y="615" width="1" height="1" fill="#006000" fill-opacity=".45"/><rect x="919.2" y="615" width="1" height="1" fill="#006000"/><rect x="921.2" y="615" width="1" height="1" fill="#006000"/><rect x="922.2" y="615" width="1" height="1" fill="#006000" fill-opacity=".45"/><rect x="917.2" y="616" width="1" height="1" fill="#006000"/><rect x="918.2" y="616" width="1" height="1" fill="#006000"/><rect x="919.2" y="616" width="1" height="1" fill="#006000"/><rect x="920.2" y="616" width="1" height="1" fill="#006000" fill-opacity=".45"/><rect x="921.2" y="616" width="1" height="1" fill="#006000" fill-opacity=".45"/><rect x="922.2" y="616" width="1" height="1" fill="#006000" fill-opacity=".45"/><rect x="916.2" y="617" width="1" height="1" fill="#006000"/><rect x="917.2" y="617" width="1" height="1" fill="#006000"/><rect x="919.2" y="617" width="1" height="1" fill="#006000" fill-opacity=".45"/><rect x="920.2" y="617" width="1" height="1" fill="#006000"/><rect x="921.2" y="617" width="1" height="1" fill="#006000" fill-opacity=".45"/><rect x="917.2" y="618" width="1" height="1" fill="#006000"/><rect x="920.2" y="618" width="1" height="1" fill="#006000"/><rect x="916.2" y="619" width="1" height="1" fill="#006000" fill-opacity=".45"/><rect x="917.2" y="619" width="1" height="1" fill="#006000"/><rect x="918.2" y="619" width="1" height="1" fill="#006000"/><rect x="919.2" y="619" width="1" height="1" fill="#006000"/><rect x="920.2" y="619" width="1" height="1" fill="#006000"/><rect x="921.2" y="619" width="1" height="1" fill="#006000"/><rect x="922.2" y="619" width="1" height="1" fill="#006000"/><rect x="925.0" y="613" width="1" height="1" fill="#006000" fill-opacity=".45"/><rect x="926.0" y="613" width="1" height="1" fill="#006000"/><rect x="930.0" y="613" width="1" height="1" fill="#006000"/><rect x="924.0" y="614" width="1" height="1" fill="#006000"/><rect x="925.0" y="614" width="1" height="1" fill="#006000"/><rect x="926.0" y="614" width="1" height="1" fill="#006000"/><rect x="927.0" y="614" width="1" height="1" fill="#006000"/><rect x="928.0" y="614" width="1" height="1" fill="#006000" fill-opacity=".45"/><rect x="929.0" y="614" width="1" height="1" fill="#006000" fill-opacity=".45"/><rect x="930.0" y="614" width="1" height="1" fill="#006000"/><rect x="924.0" y="615" width="1" height="1" fill="#006000"/><rect x="925.0" y="615" width="1" height="1" fill="#006000"/><rect x="926.0" y="615" width="1" height="1" fill="#006000"/><rect x="927.0" y="615" width="1" height="1" fill="#006000"/><rect x="928.0" y="615" width="1" height="1" fill="#006000"/><rect x="929.0" y="615" width="1" height="1" fill="#006000" fill-opacity=".45"/><rect x="930.0" y="615" width="1" height="1" fill="#006000"/><rect x="925.0" y="616" width="1" height="1" fill="#006000"/><rect x="926.0" y="616" width="1" height="1" fill="#006000"/><rect x="927.0" y="616" width="1" height="1" fill="#006000"/><rect x="928.0" y="616" width="1" height="1" fill="#006000" fill-opacity=".45"/><rect x="929.0" y="616" width="1" height="1" fill="#006000" fill-opacity=".45"/><rect x="930.0" y="616" width="1" height="1" fill="#006000"/><rect x="924.0" y="617" width="1" height="1" fill="#006000"/><rect x="925.0" y="617" width="1" height="1" fill="#006000" fill-opacity=".45"/><rect x="926.0" y="617" width="1" height="1" fill="#006000"/><rect x="927.0" y="617" width="1" height="1" fill="#006000"/><rect x="928.0" y="617" width="1" height="1" fill="#006000" fill-opacity=".45"/><rect x="929.0" y="617" width="1" height="1" fill="#006000" fill-opacity=".45"/><rect x="930.0" y="617" width="1" height="1" fill="#006000"/><rect x="924.0" y="618" width="1" height="1" fill="#006000"/><rect x="926.0" y="618" width="1" height="1" fill="#006000"/><rect x="927.0" y="618" width="1" height="1" fill="#006000"/><rect x="930.0" y="618" width="1" height="1" fill="#006000"/><rect x="926.0" y="619" width="1" height="1" fill="#006000"/><rect x="929.0" y="619" width="1" height="1" fill="#006000"/><rect x="930.0" y="619" width="1" height="1" fill="#006000" fill-opacity=".45"/><rect x="443" y="289" width="1" height="1" fill="#000000" fill-opacity=".45"/><rect x="445" y="289" width="1" height="1" fill="#000000" fill-opacity=".45"/><rect x="446" y="289" width="1" height="1" fill="#000000" fill-opacity=".45"/><rect x="442" y="290" width="1" height="1" fill="#000000"/><rect x="443" y="290" width="1" height="1" fill="#000000"/><rect x="444" y="290" width="1" height="1" fill="#000000"/><rect x="445" y="290" width="1" height="1" fill="#000000"/><rect x="446" y="290" width="1" height="1" fill="#000000"/><rect x="442" y="291" width="1" height="1" fill="#000000"/><rect x="443" y="291" width="1" height="1" fill="#000000" fill-opacity=".45"/><rect x="444" y="291" width="1" height="1" fill="#000000"/><rect x="445" y="291" width="1" height="1" fill="#000000" fill-opacity=".45"/><rect x="446" y="291" width="1" height="1" fill="#000000"/><rect x="442" y="292" width="1" height="1" fill="#000000"/><rect x="443" y="292" width="1" height="1" fill="#000000" fill-opacity=".45"/><rect x="444" y="292" width="1" height="1" fill="#000000"/><rect x="445" y="292" width="1" height="1" fill="#000000" fill-opacity=".45"/><rect x="446" y="292" width="1" height="1" fill="#000000"/><rect x="442" y="293" width="1" height="1" fill="#000000"/><rect x="443" y="293" width="1" height="1" fill="#000000"/><rect x="444" y="293" width="1" height="1" fill="#000000"/><rect x="445" y="293" width="1" height="1" fill="#000000"/><rect x="446" y="293" width="1" height="1" fill="#000000"/><rect x="441" y="294" width="1" height="1" fill="#000000"/><rect x="442" y="294" width="1" height="1" fill="#000000"/><rect x="443" y="294" width="1" height="1" fill="#000000"/><rect x="444" y="294" width="1" height="1" fill="#000000"/><rect x="445" y="294" width="1" height="1" fill="#000000"/><rect x="446" y="294" width="1" height="1" fill="#000000"/><rect x="447" y="294" width="1" height="1" fill="#000000"/><rect x="444" y="295" width="1" height="1" fill="#000000"/><rect x="452" y="289" width="1" height="1" fill="#000000"/><rect x="450" y="290" width="1" height="1" fill="#000000"/><rect x="451" y="290" width="1" height="1" fill="#000000"/><rect x="452" y="290" width="1" height="1" fill="#000000"/><rect x="453" y="290" width="1" height="1" fill="#000000"/><rect x="454" y="290" width="1" height="1" fill="#000000"/><rect x="450" y="291" width="1" height="1" fill="#000000"/><rect x="451" y="291" width="1" height="1" fill="#000000" fill-opacity=".45"/><rect x="452" y="291" width="1" height="1" fill="#000000" fill-opacity=".45"/><rect x="453" y="291" width="1" height="1" fill="#000000" fill-opacity=".45"/><rect x="454" y="291" width="1" height="1" fill="#000000"/><rect x="450" y="292" width="1" height="1" fill="#000000"/><rect x="451" y="292" width="1" height="1" fill="#000000" fill-opacity=".45"/><rect x="452" y="292" width="1" height="1" fill="#000000" fill-opacity=".45"/><rect x="453" y="292" width="1" height="1" fill="#000000" fill-opacity=".45"/><rect x="454" y="292" width="1" height="1" fill="#000000" fill-opacity=".45"/><rect x="450" y="293" width="1" height="1" fill="#000000"/><rect x="451" y="293" width="1" height="1" fill="#000000"/><rect x="452" y="293" width="1" height="1" fill="#000000"/><rect x="453" y="293" width="1" height="1" fill="#000000"/><rect x="454" y="293" width="1" height="1" fill="#000000"/><rect x="455" y="293" width="1" height="1" fill="#000000" fill-opacity=".45"/><rect x="449" y="294" width="1" height="1" fill="#000000" fill-opacity=".45"/><rect x="450" y="294" width="1" height="1" fill="#000000"/><rect x="451" y="294" width="1" height="1" fill="#000000"/><rect x="452" y="294" width="1" height="1" fill="#000000" fill-opacity=".45"/><rect x="453" y="294" width="1" height="1" fill="#000000" fill-opacity=".45"/><rect x="454" y="294" width="1" height="1" fill="#000000"/><rect x="455" y="294" width="1" height="1" fill="#000000" fill-opacity=".45"/><rect x="449" y="295" width="1" height="1" fill="#000000"/><rect x="451" y="295" width="1" height="1" fill="#000000"/><rect x="452" y="295" width="1" height="1" fill="#000000" fill-opacity=".45"/><rect x="453" y="295" width="1" height="1" fill="#000000" fill-opacity=".45"/><rect x="454" y="295" width="1" height="1" fill="#000000"/><rect x="604.0" y="289" width="1" height="1" fill="#000000" fill-opacity=".45"/><rect x="605.0" y="289" width="1" height="1" fill="#000000"/><rect x="606.0" y="289" width="1" height="1" fill="#000000"/><rect x="607.0" y="289" width="1" height="1" fill="#000000"/><rect x="608.0" y="289" width="1" height="1" fill="#000000"/><rect x="609.0" y="289" width="1" height="1" fill="#000000"/><rect x="610.0" y="289" width="1" height="1" fill="#000000" fill-opacity=".45"/><rect x="604.0" y="290" width="1" height="1" fill="#000000"/><rect x="605.0" y="290" width="1" height="1" fill="#000000" fill-opacity=".45"/><rect x="606.0" y="290" width="1" height="1" fill="#000000"/><rect x="607.0" y="290" width="1" height="1" fill="#000000"/><rect x="608.0" y="290" width="1" height="1" fill="#000000"/><rect x="609.0" y="290" width="1" height="1" fill="#000000" fill-opacity=".45"/><rect x="610.0" y="290" width="1" height="1" fill="#000000"/><rect x="604.0" y="291" width="1" height="1" fill="#000000"/><rect x="606.0" y="291" width="1" height="1" fill="#000000" fill-opacity=".45"/><rect x="607.0" y="291" width="1" height="1" fill="#000000" fill-opacity=".45"/><rect x="608.0" y="291" width="1" height="1" fill="#000000" fill-opacity=".45"/><rect x="610.0" y="291" width="1" height="1" fill="#000000"/><rect x="604.0" y="292" width="1" height="1" fill="#000000"/><rect x="606.0" y="292" width="1" height="1" fill="#000000"/><rect x="607.0" y="292" width="1" height="1" fill="#000000" fill-opacity=".45"/><rect x="608.0" y="292" width="1" height="1" fill="#000000"/><rect x="610.0" y="292" width="1" height="1" fill="#000000"/><rect x="604.0" y="293" width="1" height="1" fill="#000000"/><rect x="606.0" y="293" width="1" height="1" fill="#000000"/><rect x="607.0" y="293" width="1" height="1" fill="#000000"/><rect x="608.0" y="293" width="1" height="1" fill="#000000"/><rect x="610.0" y="293" width="1" height="1" fill="#000000"/><rect x="604.0" y="294" width="1" height="1" fill="#000000"/><rect x="606.0" y="294" width="1" height="1" fill="#000000"/><rect x="610.0" y="294" width="1" height="1" fill="#000000"/><rect x="604.0" y="295" width="1" height="1" fill="#000000" fill-opacity=".45"/><rect x="609.0" y="295" width="1" height="1" fill="#000000"/><rect x="616.6" y="289" width="1" height="1" fill="#000000"/><rect x="611.6" y="290" width="1" height="1" fill="#000000"/><rect x="612.6" y="290" width="1" height="1" fill="#000000"/><rect x="613.6" y="290" width="1" height="1" fill="#000000"/><rect x="614.6" y="290" width="1" height="1" fill="#000000"/><rect x="615.6" y="290" width="1" height="1" fill="#000000"/><rect x="616.6" y="290" width="1" height="1" fill="#000000"/><rect x="617.6" y="290" width="1" height="1" fill="#000000" fill-opacity=".45"/><rect x="611.6" y="291" width="1" height="1" fill="#000000"/><rect x="612.6" y="291" width="1" height="1" fill="#000000" fill-opacity=".45"/><rect x="613.6" y="291" width="1" height="1" fill="#000000"/><rect x="614.6" y="291" width="1" height="1" fill="#000000" fill-opacity=".45"/><rect x="616.6" y="291" width="1" height="1" fill="#000000"/><rect x="611.6" y="292" width="1" height="1" fill="#000000"/><rect x="612.6" y="292" width="1" height="1" fill="#000000"/><rect x="613.6" y="292" width="1" height="1" fill="#000000"/><rect x="614.6" y="292" width="1" height="1" fill="#000000"/><rect x="615.6" y="292" width="1" height="1" fill="#000000" fill-opacity=".45"/><rect x="616.6" y="292" width="1" height="1" fill="#000000"/><rect x="611.6" y="293" width="1" height="1" fill="#000000"/><rect x="613.6" y="293" width="1" height="1" fill="#000000"/><rect x="615.6" y="293" width="1" height="1" fill="#000000"/><rect x="616.6" y="293" width="1" height="1" fill="#000000"/><rect x="611.6" y="294" width="1" height="1" fill="#000000"/><rect x="612.6" y="294" width="1" height="1" fill="#000000"/><rect x="613.6" y="294" width="1" height="1" fill="#000000"/><rect x="616.6" y="294" width="1" height="1" fill="#000000"/><rect x="615.6" y="295" width="1" height="1" fill="#000000"/><rect x="616.6" y="295" width="1" height="1" fill="#000000"/><rect x="622.2" y="289" width="1" height="1" fill="#000000"/><rect x="620.2" y="290" width="1" height="1" fill="#000000"/><rect x="621.2" y="290" width="1" height="1" fill="#000000"/><rect x="622.2" y="290" width="1" height="1" fill="#000000"/><rect x="623.2" y="290" width="1" height="1" fill="#000000"/><rect x="624.2" y="290" width="1" height="1" fill="#000000"/><rect x="620.2" y="291" width="1" height="1" fill="#000000"/><rect x="621.2" y="291" width="1" height="1" fill="#000000" fill-opacity=".45"/><rect x="622.2" y="291" width="1" height="1" fill="#000000" fill-opacity=".45"/><rect x="623.2" y="291" width="1" height="1" fill="#000000" fill-opacity=".45"/><rect x="624.2" y="291" width="1" height="1" fill="#000000"/><rect x="620.2" y="292" width="1" height="1" fill="#000000"/><rect x="621.2" y="292" width="1" height="1" fill="#000000" fill-opacity=".45"/><rect x="622.2" y="292" width="1" height="1" fill="#000000" fill-opacity=".45"/><rect x="623.2" y="292" width="1" height="1" fill="#000000" fill-opacity=".45"/><rect x="624.2" y="292" width="1" height="1" fill="#000000" fill-opacity=".45"/><rect x="620.2" y="293" width="1" height="1" fill="#000000"/><rect x="621.2" y="293" width="1" height="1" fill="#000000"/><rect x="622.2" y="293" width="1" height="1" fill="#000000"/><rect x="623.2" y="293" width="1" height="1" fill="#000000"/><rect x="624.2" y="293" width="1" height="1" fill="#000000"/><rect x="625.2" y="293" width="1" height="1" fill="#000000" fill-opacity=".45"/><rect x="619.2" y="294" width="1" height="1" fill="#000000" fill-opacity=".45"/><rect x="620.2" y="294" width="1" height="1" fill="#000000"/><rect x="621.2" y="294" width="1" height="1" fill="#000000"/><rect x="622.2" y="294" width="1" height="1" fill="#000000" fill-opacity=".45"/><rect x="623.2" y="294" width="1" height="1" fill="#000000" fill-opacity=".45"/><rect x="624.2" y="294" width="1" height="1" fill="#000000"/><rect x="625.2" y="294" width="1" height="1" fill="#000000" fill-opacity=".45"/><rect x="619.2" y="295" width="1" height="1" fill="#000000"/><rect x="621.2" y="295" width="1" height="1" fill="#000000"/><rect x="622.2" y="295" width="1" height="1" fill="#000000" fill-opacity=".45"/><rect x="623.2" y="295" width="1" height="1" fill="#000000" fill-opacity=".45"/><rect x="624.2" y="295" width="1" height="1" fill="#000000"/><rect x="627.8" y="289" width="1" height="1" fill="#000000" fill-opacity=".45"/><rect x="628.8" y="289" width="1" height="1" fill="#000000" fill-opacity=".45"/><rect x="630.8" y="289" width="1" height="1" fill="#000000" fill-opacity=".45"/><rect x="627.8" y="290" width="1" height="1" fill="#000000" fill-opacity=".45"/><rect x="628.8" y="290" width="1" height="1" fill="#000000" fill-opacity=".45"/><rect x="630.8" y="290" width="1" height="1" fill="#000000"/><rect x="631.8" y="290" width="1" height="1" fill="#000000" fill-opacity=".45"/><rect x="626.8" y="291" width="1" height="1" fill="#000000"/><rect x="627.8" y="291" width="1" height="1" fill="#000000"/><rect x="628.8" y="291" width="1" height="1" fill="#000000"/><rect x="629.8" y="291" width="1" height="1" fill="#000000"/><rect x="630.8" y="291" width="1" height="1" fill="#000000"/><rect x="631.8" y="291" width="1" height="1" fill="#000000"/><rect x="632.8" y="291" width="1" height="1" fill="#000000"/><rect x="627.8" y="292" width="1" height="1" fill="#000000"/><rect x="630.8" y="292" width="1" height="1" fill="#000000"/><rect x="632.8" y="292" width="1" height="1" fill="#000000"/><rect x="627.8" y="293" width="1" height="1" fill="#000000"/><rect x="628.8" y="293" width="1" height="1" fill="#000000"/><rect x="629.8" y="293" width="1" height="1" fill="#000000" fill-opacity=".45"/><rect x="630.8" y="293" width="1" height="1" fill="#000000"/><rect x="632.8" y="293" width="1" height="1" fill="#000000"/><rect x="626.8" y="294" width="1" height="1" fill="#000000"/><rect x="627.8" y="294" width="1" height="1" fill="#000000"/><rect x="628.8" y="294" width="1" height="1" fill="#000000"/><rect x="629.8" y="294" width="1" height="1" fill="#000000"/><rect x="630.8" y="294" width="1" height="1" fill="#000000"/><rect x="632.8" y="294" width="1" height="1" fill="#000000"/><rect x="629.8" y="295" width="1" height="1" fill="#000000"/><rect x="630.8" y="295" width="1" height="1" fill="#000000" fill-opacity=".45"/><rect x="631.8" y="295" width="1" height="1" fill="#000000"/><rect x="660" y="289" width="1" height="1" fill="#000000" fill-opacity=".45"/><rect x="662" y="289" width="1" height="1" fill="#000000" fill-opacity=".45"/><rect x="663" y="289" width="1" height="1" fill="#000000" fill-opacity=".45"/><rect x="659" y="290" width="1" height="1" fill="#000000"/><rect x="660" y="290" width="1" height="1" fill="#000000"/><rect x="661" y="290" width="1" height="1" fill="#000000"/><rect x="662" y="290" width="1" height="1" fill="#000000"/><rect x="663" y="290" width="1" height="1" fill="#000000"/><rect x="659" y="291" width="1" height="1" fill="#000000"/><rect x="660" y="291" width="1" height="1" fill="#000000" fill-opacity=".45"/><rect x="661" y="291" width="1" height="1" fill="#000000"/><rect x="662" y="291" width="1" height="1" fill="#000000" fill-opacity=".45"/><rect x="663" y="291" width="1" height="1" fill="#000000"/><rect x="659" y="292" width="1" height="1" fill="#000000"/><rect x="660" y="292" width="1" height="1" fill="#000000" fill-opacity=".45"/><rect x="661" y="292" width="1" height="1" fill="#000000"/><rect x="662" y="292" width="1" height="1" fill="#000000" fill-opacity=".45"/><rect x="663" y="292" width="1" height="1" fill="#000000"/><rect x="659" y="293" width="1" height="1" fill="#000000"/><rect x="660" y="293" width="1" height="1" fill="#000000"/><rect x="661" y="293" width="1" height="1" fill="#000000"/><rect x="662" y="293" width="1" height="1" fill="#000000"/><rect x="663" y="293" width="1" height="1" fill="#000000"/><rect x="658" y="294" width="1" height="1" fill="#000000"/><rect x="659" y="294" width="1" height="1" fill="#000000"/><rect x="660" y="294" width="1" height="1" fill="#000000"/><rect x="661" y="294" width="1" height="1" fill="#000000"/><rect x="662" y="294" width="1" height="1" fill="#000000"/><rect x="663" y="294" width="1" height="1" fill="#000000"/><rect x="664" y="294" width="1" height="1" fill="#000000"/><rect x="661" y="295" width="1" height="1" fill="#000000"/><rect x="669" y="289" width="1" height="1" fill="#000000"/><rect x="667" y="290" width="1" height="1" fill="#000000"/><rect x="668" y="290" width="1" height="1" fill="#000000"/><rect x="669" y="290" width="1" height="1" fill="#000000"/><rect x="670" y="290" width="1" height="1" fill="#000000"/><rect x="671" y="290" width="1" height="1" fill="#000000"/><rect x="667" y="291" width="1" height="1" fill="#000000"/><rect x="668" y="291" width="1" height="1" fill="#000000" fill-opacity=".45"/><rect x="669" y="291" width="1" height="1" fill="#000000" fill-opacity=".45"/><rect x="670" y="291" width="1" height="1" fill="#000000" fill-opacity=".45"/><rect x="671" y="291" width="1" height="1" fill="#000000"/><rect x="667" y="292" width="1" height="1" fill="#000000"/><rect x="668" y="292" width="1" height="1" fill="#000000" fill-opacity=".45"/><rect x="669" y="292" width="1" height="1" fill="#000000" fill-opacity=".45"/><rect x="670" y="292" width="1" height="1" fill="#000000" fill-opacity=".45"/><rect x="671" y="292" width="1" height="1" fill="#000000" fill-opacity=".45"/><rect x="667" y="293" width="1" height="1" fill="#000000"/><rect x="668" y="293" width="1" height="1" fill="#000000"/><rect x="669" y="293" width="1" height="1" fill="#000000"/><rect x="670" y="293" width="1" height="1" fill="#000000"/><rect x="671" y="293" width="1" height="1" fill="#000000"/><rect x="672" y="293" width="1" height="1" fill="#000000" fill-opacity=".45"/><rect x="666" y="294" width="1" height="1" fill="#000000" fill-opacity=".45"/><rect x="667" y="294" width="1" height="1" fill="#000000"/><rect x="668" y="294" width="1" height="1" fill="#000000"/><rect x="669" y="294" width="1" height="1" fill="#000000" fill-opacity=".45"/><rect x="670" y="294" width="1" height="1" fill="#000000" fill-opacity=".45"/><rect x="671" y="294" width="1" height="1" fill="#000000"/><rect x="672" y="294" width="1" height="1" fill="#000000" fill-opacity=".45"/><rect x="666" y="295" width="1" height="1" fill="#000000"/><rect x="668" y="295" width="1" height="1" fill="#000000"/><rect x="669" y="295" width="1" height="1" fill="#000000" fill-opacity=".45"/><rect x="670" y="295" width="1" height="1" fill="#000000" fill-opacity=".45"/><rect x="671" y="295" width="1" height="1" fill="#000000"/></g>
<g><text x="65.5" y="7" fill="#005a00" font-size="8" text-anchor="middle" font-weight="bold">A</text><text x="65.5" y="637.5" fill="#005a00" font-size="8" text-anchor="middle" font-weight="bold">A</text><text x="188.5" y="7" fill="#005a00" font-size="8" text-anchor="middle" font-weight="bold">B</text><text x="188.5" y="637.5" fill="#005a00" font-size="8" text-anchor="middle" font-weight="bold">B</text><text x="311.5" y="7" fill="#005a00" font-size="8" text-anchor="middle" font-weight="bold">C</text><text x="311.5" y="637.5" fill="#005a00" font-size="8" text-anchor="middle" font-weight="bold">C</text><text x="434.5" y="7" fill="#005a00" font-size="8" text-anchor="middle" font-weight="bold">D</text><text x="434.5" y="637.5" fill="#005a00" font-size="8" text-anchor="middle" font-weight="bold">D</text><text x="557.5" y="7" fill="#005a00" font-size="8" text-anchor="middle" font-weight="bold">E</text><text x="557.5" y="637.5" fill="#005a00" font-size="8" text-anchor="middle" font-weight="bold">E</text><text x="680.5" y="7" fill="#005a00" font-size="8" text-anchor="middle" font-weight="bold">F</text><text x="680.5" y="637.5" fill="#005a00" font-size="8" text-anchor="middle" font-weight="bold">F</text><text x="803.5" y="7" fill="#005a00" font-size="8" text-anchor="middle" font-weight="bold">G</text><text x="803.5" y="637.5" fill="#005a00" font-size="8" text-anchor="middle" font-weight="bold">G</text><text x="926.5" y="7" fill="#005a00" font-size="8" text-anchor="middle" font-weight="bold">H</text><text x="926.5" y="637.5" fill="#005a00" font-size="8" text-anchor="middle" font-weight="bold">H</text><text x="5.5" y="70" fill="#005a00" font-size="8" text-anchor="middle" font-weight="bold">1</text><text x="1004.5" y="70" fill="#005a00" font-size="8" text-anchor="middle" font-weight="bold">1</text><text x="5.5" y="196" fill="#005a00" font-size="8" text-anchor="middle" font-weight="bold">2</text><text x="1004.5" y="196" fill="#005a00" font-size="8" text-anchor="middle" font-weight="bold">2</text><text x="5.5" y="322" fill="#005a00" font-size="8" text-anchor="middle" font-weight="bold">3</text><text x="1004.5" y="322" fill="#005a00" font-size="8" text-anchor="middle" font-weight="bold">3</text><text x="5.5" y="448" fill="#005a00" font-size="8" text-anchor="middle" font-weight="bold">4</text><text x="1004.5" y="448" fill="#005a00" font-size="8" text-anchor="middle" font-weight="bold">4</text><text x="5.5" y="574" fill="#005a00" font-size="8" text-anchor="middle" font-weight="bold">5</text><text x="1004.5" y="574" fill="#005a00" font-size="8" text-anchor="middle" font-weight="bold">5</text><text x="854" y="593" fill="#006000" font-size="7" text-anchor="start" font-weight="bold" textLength="44.5" lengthAdjust="spacingAndGlyphs">30-May-2012</text><text x="955.5" y="592" fill="#006000" font-size="7" text-anchor="start" font-weight="bold" textLength="13.0" lengthAdjust="spacingAndGlyphs">1 / 1</text><text x="933" y="620" fill="#006000" font-size="7" text-anchor="start" font-weight="bold" textLength="13" lengthAdjust="spacingAndGlyphs">.cad</text><text x="826.5" y="592" fill="#006000" font-size="7" text-anchor="start" font-weight="bold" textLength="2.5" lengthAdjust="spacingAndGlyphs">:</text><text x="928.5" y="592" fill="#006000" font-size="7" text-anchor="start" font-weight="bold" textLength="2.5" lengthAdjust="spacingAndGlyphs">:</text><text x="828.5" y="619" fill="#006000" font-size="7" text-anchor="start" font-weight="bold" textLength="2.5" lengthAdjust="spacingAndGlyphs">:</text><text x="32.3" y="38.5" fill="#5a0000" font-size="7.5" text-anchor="start" font-weight="bold" transform="rotate(-90 32.3 38.5)">L3</text><text x="923.5" y="41.5" fill="#000000" font-size="7" text-anchor="middle" font-weight="bold">R</text><text x="958.5" y="37.2" fill="#000000" font-size="7" text-anchor="middle" font-weight="bold">R</text><text x="32.3" y="56.5" fill="#5a0000" font-size="7.5" text-anchor="start" font-weight="bold" transform="rotate(-90 32.3 56.5)">L2</text><text x="923.5" y="59.5" fill="#000000" font-size="7" text-anchor="middle" font-weight="bold">S</text><text x="958.5" y="55.2" fill="#000000" font-size="7" text-anchor="middle" font-weight="bold">S</text><text x="32.3" y="74.5" fill="#5a0000" font-size="7.5" text-anchor="start" font-weight="bold" transform="rotate(-90 32.3 74.5)">L1</text><text x="923.5" y="77.5" fill="#000000" font-size="7" text-anchor="middle" font-weight="bold">T</text><text x="958.5" y="73.2" fill="#000000" font-size="7" text-anchor="middle" font-weight="bold">T</text><text x="39" y="85.5" fill="#000000" font-size="8" text-anchor="start" font-weight="bold" transform="rotate(-90 39 85.5)">-X</text><text x="120.5" y="123" fill="#c80000" font-size="7" text-anchor="start" font-weight="bold" textLength="4.0" lengthAdjust="spacingAndGlyphs">1</text><text x="120.5" y="177" fill="#c80000" font-size="7" text-anchor="start" font-weight="bold" textLength="4.0" lengthAdjust="spacingAndGlyphs">2</text><text x="120.5" y="285.5" fill="#c80000" font-size="7" text-anchor="start" font-weight="bold" textLength="4.0" lengthAdjust="spacingAndGlyphs">1</text><text x="120.5" y="312" fill="#c80000" font-size="7" text-anchor="start" font-weight="bold" textLength="4.0" lengthAdjust="spacingAndGlyphs">2</text><text x="138.5" y="123" fill="#c80000" font-size="7" text-anchor="start" font-weight="bold" textLength="4.0" lengthAdjust="spacingAndGlyphs">3</text><text x="138.5" y="177" fill="#c80000" font-size="7" text-anchor="start" font-weight="bold" textLength="4.0" lengthAdjust="spacingAndGlyphs">4</text><text x="138.5" y="285.5" fill="#c80000" font-size="7" text-anchor="start" font-weight="bold" textLength="4.0" lengthAdjust="spacingAndGlyphs">3</text><text x="138.5" y="312" fill="#c80000" font-size="7" text-anchor="start" font-weight="bold" textLength="4.0" lengthAdjust="spacingAndGlyphs">4</text><text x="156.5" y="123" fill="#c80000" font-size="7" text-anchor="start" font-weight="bold" textLength="4.0" lengthAdjust="spacingAndGlyphs">5</text><text x="156.5" y="177" fill="#c80000" font-size="7" text-anchor="start" font-weight="bold" textLength="4.0" lengthAdjust="spacingAndGlyphs">6</text><text x="156.5" y="285.5" fill="#c80000" font-size="7" text-anchor="start" font-weight="bold" textLength="4.0" lengthAdjust="spacingAndGlyphs">5</text><text x="156.5" y="312" fill="#c80000" font-size="7" text-anchor="start" font-weight="bold" textLength="4.0" lengthAdjust="spacingAndGlyphs">6</text><text x="70" y="136" fill="#000000" font-size="7" text-anchor="start" font-weight="bold" textLength="10.5" lengthAdjust="spacingAndGlyphs">-Q1</text><text x="89" y="298" fill="#000000" font-size="7" text-anchor="start" font-weight="bold" textLength="15.5" lengthAdjust="spacingAndGlyphs">-KM1</text><text x="121" y="438" fill="#000000" font-size="7" text-anchor="start" font-weight="bold" textLength="7.5" lengthAdjust="spacingAndGlyphs">U1</text><text x="138.7" y="438" fill="#000000" font-size="7" text-anchor="start" font-weight="bold" textLength="7.5" lengthAdjust="spacingAndGlyphs">V1</text><text x="155.8" y="438" fill="#000000" font-size="7" text-anchor="start" font-weight="bold" textLength="10.7" lengthAdjust="spacingAndGlyphs">W1</text><text x="174.8" y="438" fill="#000000" font-size="7" text-anchor="start" font-weight="bold" textLength="9.5" lengthAdjust="spacingAndGlyphs">PE</text><text x="94" y="471" fill="#000000" font-size="7" text-anchor="start" font-weight="bold" textLength="10.5" lengthAdjust="spacingAndGlyphs">-M1</text><text x="132" y="462" fill="#000000" font-size="7" text-anchor="start" font-weight="bold" textLength="5.3" lengthAdjust="spacingAndGlyphs">M</text><text x="124" y="475" fill="#000000" font-size="7" text-anchor="start" font-weight="bold" textLength="4.5" lengthAdjust="spacingAndGlyphs">3</text><text x="255.5" y="123" fill="#c80000" font-size="7" text-anchor="start" font-weight="bold" textLength="4.0" lengthAdjust="spacingAndGlyphs">1</text><text x="255.5" y="177" fill="#c80000" font-size="7" text-anchor="start" font-weight="bold" textLength="4.0" lengthAdjust="spacingAndGlyphs">2</text><text x="255.5" y="285.5" fill="#c80000" font-size="7" text-anchor="start" font-weight="bold" textLength="4.0" lengthAdjust="spacingAndGlyphs">1</text><text x="255.5" y="312" fill="#c80000" font-size="7" text-anchor="start" font-weight="bold" textLength="4.0" lengthAdjust="spacingAndGlyphs">2</text><text x="273.5" y="123" fill="#c80000" font-size="7" text-anchor="start" font-weight="bold" textLength="4.0" lengthAdjust="spacingAndGlyphs">3</text><text x="273.5" y="177" fill="#c80000" font-size="7" text-anchor="start" font-weight="bold" textLength="4.0" lengthAdjust="spacingAndGlyphs">4</text><text x="273.5" y="285.5" fill="#c80000" font-size="7" text-anchor="start" font-weight="bold" textLength="4.0" lengthAdjust="spacingAndGlyphs">3</text><text x="273.5" y="312" fill="#c80000" font-size="7" text-anchor="start" font-weight="bold" textLength="4.0" lengthAdjust="spacingAndGlyphs">4</text><text x="291.5" y="123" fill="#c80000" font-size="7" text-anchor="start" font-weight="bold" textLength="4.0" lengthAdjust="spacingAndGlyphs">5</text><text x="291.5" y="177" fill="#c80000" font-size="7" text-anchor="start" font-weight="bold" textLength="4.0" lengthAdjust="spacingAndGlyphs">6</text><text x="291.5" y="285.5" fill="#c80000" font-size="7" text-anchor="start" font-weight="bold" textLength="4.0" lengthAdjust="spacingAndGlyphs">5</text><text x="291.5" y="312" fill="#c80000" font-size="7" text-anchor="start" font-weight="bold" textLength="4.0" lengthAdjust="spacingAndGlyphs">6</text><text x="205" y="136" fill="#000000" font-size="7" text-anchor="start" font-weight="bold" textLength="10.5" lengthAdjust="spacingAndGlyphs">-Q2</text><text x="224" y="298" fill="#000000" font-size="7" text-anchor="start" font-weight="bold" textLength="15.5" lengthAdjust="spacingAndGlyphs">-KM2</text><text x="256" y="438" fill="#000000" font-size="7" text-anchor="start" font-weight="bold" textLength="7.5" lengthAdjust="spacingAndGlyphs">U1</text><text x="273.7" y="438" fill="#000000" font-size="7" text-anchor="start" font-weight="bold" textLength="7.5" lengthAdjust="spacingAndGlyphs">V1</text><text x="290.8" y="438" fill="#000000" font-size="7" text-anchor="start" font-weight="bold" textLength="10.7" lengthAdjust="spacingAndGlyphs">W1</text><text x="309.8" y="438" fill="#000000" font-size="7" text-anchor="start" font-weight="bold" textLength="9.5" lengthAdjust="spacingAndGlyphs">PE</text><text x="229" y="471" fill="#000000" font-size="7" text-anchor="start" font-weight="bold" textLength="10.5" lengthAdjust="spacingAndGlyphs">-M2</text><text x="267" y="462" fill="#000000" font-size="7" text-anchor="start" font-weight="bold" textLength="5.3" lengthAdjust="spacingAndGlyphs">M</text><text x="259" y="475" fill="#000000" font-size="7" text-anchor="start" font-weight="bold" textLength="4.5" lengthAdjust="spacingAndGlyphs">3</text><text x="77.5" y="542.5" fill="#006400" font-size="7.5" text-anchor="start" font-weight="bold" transform="rotate(-90 77.5 542.5)">PE</text><text x="84" y="553" fill="#000000" font-size="8" text-anchor="start" font-weight="bold" transform="rotate(-90 84 553)">-X</text><text x="887" y="537" fill="#000000" font-size="7" text-anchor="start" font-weight="bold" textLength="7.5" lengthAdjust="spacingAndGlyphs">-X</text><text x="896" y="132" fill="#000000" font-size="7" text-anchor="start" font-weight="bold" textLength="7.5" lengthAdjust="spacingAndGlyphs">-X</text><text x="407.6" y="148" fill="#000000" font-size="8" text-anchor="start" font-weight="bold" transform="rotate(-90 407.6 148)">-X</text><text x="400.6" y="495.8" fill="#0000c0" font-size="7.5" text-anchor="start" font-weight="bold" transform="rotate(-90 400.6 495.8)">N</text><text x="887" y="492" fill="#000000" font-size="7" text-anchor="start" font-weight="bold" textLength="7.5" lengthAdjust="spacingAndGlyphs">-X</text><text x="407.6" y="508" fill="#000000" font-size="8" text-anchor="start" font-weight="bold" transform="rotate(-90 407.6 508)">-X</text><text x="481" y="177" fill="#747874" font-size="7" text-anchor="start" font-weight="bold" textLength="7" lengthAdjust="spacingAndGlyphs">11</text><text x="481" y="204" fill="#747874" font-size="7" text-anchor="start" font-weight="bold" textLength="7" lengthAdjust="spacingAndGlyphs">12</text><text x="481" y="267" fill="#747874" font-size="7" text-anchor="start" font-weight="bold" textLength="7" lengthAdjust="spacingAndGlyphs">13</text><text x="481" y="294" fill="#747874" font-size="7" text-anchor="start" font-weight="bold" textLength="7" lengthAdjust="spacingAndGlyphs">14</text><text x="442.3" y="190" fill="#000000" font-size="7" text-anchor="start" font-weight="bold" textLength="10.5" lengthAdjust="spacingAndGlyphs">-S4</text><text x="526" y="267" fill="#c80000" font-size="7" text-anchor="start" font-weight="bold" textLength="7" lengthAdjust="spacingAndGlyphs">13</text><text x="526" y="294" fill="#c80000" font-size="7" text-anchor="start" font-weight="bold" textLength="7" lengthAdjust="spacingAndGlyphs">14</text><text x="571" y="267" fill="#c80000" font-size="7" text-anchor="start" font-weight="bold" textLength="7" lengthAdjust="spacingAndGlyphs">13</text><text x="571" y="294" fill="#c80000" font-size="7" text-anchor="start" font-weight="bold" textLength="7" lengthAdjust="spacingAndGlyphs">14</text><text x="442" y="280" fill="#000000" font-size="7" text-anchor="start" font-weight="bold" textLength="10.5" lengthAdjust="spacingAndGlyphs">-S1</text><text x="457.5" y="296" fill="#000000" font-size="7" text-anchor="start" font-weight="bold" textLength="3.0" lengthAdjust="spacingAndGlyphs">1</text><text x="494.3" y="280" fill="#000000" font-size="7" text-anchor="start" font-weight="bold" textLength="15.0" lengthAdjust="spacingAndGlyphs">-KM1</text><text x="538.7" y="280" fill="#000000" font-size="7" text-anchor="start" font-weight="bold" textLength="15.7" lengthAdjust="spacingAndGlyphs">-KM2</text><text x="643" y="267" fill="#747874" font-size="7" text-anchor="start" font-weight="bold" textLength="7" lengthAdjust="spacingAndGlyphs">13</text><text x="643" y="294" fill="#747874" font-size="7" text-anchor="start" font-weight="bold" textLength="7" lengthAdjust="spacingAndGlyphs">14</text><text x="604.7" y="280" fill="#000000" font-size="7" text-anchor="start" font-weight="bold" textLength="10.5" lengthAdjust="spacingAndGlyphs">-S3</text><text x="697" y="267" fill="#747874" font-size="7" text-anchor="start" font-weight="bold" textLength="7" lengthAdjust="spacingAndGlyphs">13</text><text x="697" y="294" fill="#747874" font-size="7" text-anchor="start" font-weight="bold" textLength="7" lengthAdjust="spacingAndGlyphs">14</text><text x="697" y="330" fill="#c80000" font-size="7" text-anchor="start" font-weight="bold" textLength="7" lengthAdjust="spacingAndGlyphs">13</text><text x="697" y="357" fill="#c80000" font-size="7" text-anchor="start" font-weight="bold" textLength="7" lengthAdjust="spacingAndGlyphs">14</text><text x="658" y="280" fill="#000000" font-size="7" text-anchor="start" font-weight="bold" textLength="10.5" lengthAdjust="spacingAndGlyphs">-S2</text><text x="674" y="296" fill="#000000" font-size="7" text-anchor="start" font-weight="bold" textLength="3.5" lengthAdjust="spacingAndGlyphs">2</text><text x="664.9" y="343" fill="#000000" font-size="7" text-anchor="start" font-weight="bold" textLength="15.6" lengthAdjust="spacingAndGlyphs">-KM1</text><text x="743" y="267" fill="#c80000" font-size="7" text-anchor="start" font-weight="bold" textLength="7" lengthAdjust="spacingAndGlyphs">13</text><text x="743" y="294" fill="#c80000" font-size="7" text-anchor="start" font-weight="bold" textLength="7" lengthAdjust="spacingAndGlyphs">14</text><text x="743" y="330" fill="#747874" font-size="7" text-anchor="start" font-weight="bold" textLength="7" lengthAdjust="spacingAndGlyphs">11</text><text x="743" y="357" fill="#747874" font-size="7" text-anchor="start" font-weight="bold" textLength="7" lengthAdjust="spacingAndGlyphs">12</text><text x="709.9" y="280" fill="#000000" font-size="7" text-anchor="start" font-weight="bold" textLength="16.1" lengthAdjust="spacingAndGlyphs">-KM2</text><text x="702.8" y="343" fill="#000000" font-size="7" text-anchor="start" font-weight="bold" textLength="10.9" lengthAdjust="spacingAndGlyphs">-S1</text><text x="480.5" y="429.5" fill="#c80000" font-size="7" text-anchor="start" font-weight="bold" textLength="8.0" lengthAdjust="spacingAndGlyphs">A1</text><text x="480.5" y="456" fill="#c80000" font-size="7" text-anchor="start" font-weight="bold" textLength="8.0" lengthAdjust="spacingAndGlyphs">A2</text><text x="443.2" y="442" fill="#000000" font-size="7" text-anchor="start" font-weight="bold" textLength="14.8" lengthAdjust="spacingAndGlyphs">-KM1</text><text x="642.5" y="429.5" fill="#c80000" font-size="7" text-anchor="start" font-weight="bold" textLength="8.0" lengthAdjust="spacingAndGlyphs">A1</text><text x="642.5" y="456" fill="#c80000" font-size="7" text-anchor="start" font-weight="bold" textLength="8.0" lengthAdjust="spacingAndGlyphs">A2</text><text x="605.2" y="442" fill="#000000" font-size="7" text-anchor="start" font-weight="bold" textLength="14.8" lengthAdjust="spacingAndGlyphs">-KM2</text></g>
</svg></body></html>
